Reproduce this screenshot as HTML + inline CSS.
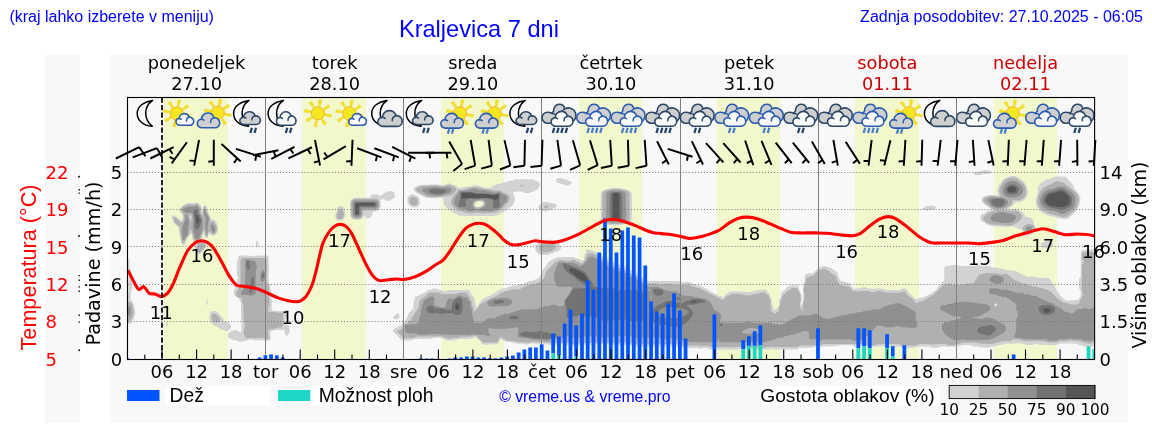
<!DOCTYPE html>
<html lang="sl"><head><meta charset="utf-8"><title>Kraljevica 7 dni</title>
<style>
html,body{margin:0;padding:0;background:#fff;}
body{width:1152px;height:443px;overflow:hidden;font-family:'Liberation Sans',Arial,sans-serif;}
svg{display:block;will-change:transform;}
</style></head><body>
<svg width="1152" height="443" viewBox="0 0 1152 443">
<defs><clipPath id="axclip"><rect x="127.5" y="97.5" width="967.0999999999999" height="262.0"/></clipPath></defs>
<rect width="1152" height="443" fill="#fff"/>
<rect x="45" y="55" width="35" height="367.5" fill="#f8f8f8"/>
<rect x="110" y="55" width="1017.8" height="367.5" fill="#f8f8f8"/>
<rect x="164" y="97.5" width="64" height="262.0" fill="#f2f8cc"/>
<rect x="302" y="97.5" width="64" height="262.0" fill="#f2f8cc"/>
<rect x="441" y="97.5" width="63" height="262.0" fill="#f2f8cc"/>
<rect x="579" y="97.5" width="63" height="262.0" fill="#f2f8cc"/>
<rect x="717" y="97.5" width="63" height="262.0" fill="#f2f8cc"/>
<rect x="855" y="97.5" width="64" height="262.0" fill="#f2f8cc"/>
<rect x="994" y="97.5" width="63" height="262.0" fill="#f2f8cc"/>
<g clip-path="url(#axclip)" fill-rule="evenodd" shape-rendering="geometricPrecision">
<path fill="#d2d2d2" d="M982.5 170.4l1.5-.1l1.5-.1l1.5 .1l1.5 0l1.5 .1l1.5 1.5l-1.4 1.6l-1.6 .2l-1.5 .2l-1.5 0l-1.5 .1l-1.5 .1l-1.4 .9l-1.6 .1l-1.5 0l-1.5 0l-1.5 0l-1.5-1.5l1.5-1.6l1.5-.2l1.5-.1l1.5-.1l1.5-.1l1.4-1.0zM1009.5 176.2l1.5-.2l1.5-.1l1.5 0l1.5 .2l1.5 1.2l1.5 .4l1.5 1.3l1.5 1.3l1.5 .6l1.5 1.5l.7 1.6l.8 1.0l.8 2.0l.1 1.5l.6 1.2l.4 1.8l0 1.5l-.1 1.5l-1.1 1.5l-.2 1.5l-1.4 1.5l-1.7 1.5l-1.9 .7l-1.5 .8l-1.5 .1l-1.5 .1l-1.5 0l-1.0 1.3l-1.3 1.5l-1.6 1.5l-2.1 .9l-1.0 .6l1.0 1.2l1.5 0l1.5-.1l1.5-.1l1.5 .1l1.5 .2l1.5 .9l1.5 .3l1.5 1.4l1.5 .6l.6 1.5l.9 1.3l1.5 1.6l1.5 0l1.5 .1l1.5 1.3l1.5 .1l1.5 1.5l.1 1.6l.1 1.5l.4 1.5l.9 .9l.8 2.1l0 1.5l-.3 1.5l-1.4 1.5l-1.5 1.5l-2.1 .9l-1.1 .6l-1.9 .5l-1.5-.3l-1.5-1.1l-1.5-1.6l-.8-2.0l-.7-1.1l-1.5-.3l-1.5-.1l-1.5-1.3l-1.5-.1l-1.5-1.4l-1.5 .3l-1.5 .2l-1.5 .1l-1.5 0l-1.5 0l-1.5 0l-1.5-.1l-1.5 0l-1.5-.1l-1.5-.1l-1.5 0l-1.5-.1l-1.5-.1l-1.5 0l-1.5-.1l-1.5-.9l-1.5-.2l-1.5-.4l-1.5-1.1l-1.5-1.4l-1.5-.3l-1.5-1.5l-.6-1.9l.1-1.5l.3-1.5l1.5-1.5l1.7-.5l1.2-1.0l1.8-1.5l1.5-.4l1.5-.2l1.5-.2l1.2-.7l-1.2-.6l-1.5-.5l-1.5-1.3l-1.5-1.3l-1.5-.6l-1.5-1.1l-1.5-1.6l-.8-2.0l.1-1.5l.6-1.5l1.6-.8l1.5-.7l1.5-.6l1.5-.2l1.5-.1l1.5 0l1.5 0l1.5 .1l1.5 .1l1.5 .2l1.0-1.0l-.2-1.5l-.8-1.2l-.3-1.8l1.0-1.5l.2-1.5l.4-1.5l1.1-1.5l1.4-1.5l.7-1.5l1.3-1.5l1.7-1.5l1.5-.6l1.5-.2l1.2-.7zM1056.0 176.5l1.5-.1l1.5 0l1.5 0l1.5 0l1.5 0l1.5 .1l1.5 1.3l1.5 1.6l1.5 1.5l1.5 1.5l1.5 1.6l.3 1.5l1.2 1.3l.3 1.7l1.2 1.4l1.4 1.6l1.1 1.5l.9 1.5l.8 1.5l.5 1.5l.2 1.5l-.1 1.5l-.3 1.5l-.3 1.5l-.4 1.5l-.5 1.5l-.9 1.5l-.9 1.5l-1.0 1.5l-1.3 1.5l-1.5 1.5l-1.5 1.5l-1.6 1.5l-2.1 1.5l-1.5 .5l-1.5 .2l-1.5-.1l-1.5-.2l-1.5-.3l-1.5-.4l-1.5-.5l-1.5-.5l-1.5-.3l-1.5-.3l-1.5-.2l-1.5-.4l-1.5-.4l-1.5-.7l-1.5-.7l-1.5-.7l-1.5-.6l-1.5-.8l-1.5-1.1l-1.2-1.5l-.8-1.5l-.7-1.5l-.5-1.5l-.3-1.5l-.1-1.5l0-1.5l.2-1.5l.3-1.5l.5-1.5l.5-1.5l.4-1.5l-.1-1.5l0-1.5l.1-1.5l.1-1.5l1.3-1.5l.3-1.5l1.5-1.5l1.5-.3l1.3-1.2l1.6-1.5l1.6-.2l1.5-.1l1.5-.1l1.4-1.1l1.6-.3l1.5-.1l1.5-1.1zM558.0 178.0l1.5-.1l1.5 0l1.5 1.2l1.5 .1l1.5 .1l1.5 .2l1.5 1.2l1.5 .2l1.5 1.4l.1 1.7l-1.6 .3l-1.4 1.2l-1.6 .1l-1.5 0l-1.5-1.2l-1.5-.1l-1.5-.2l-1.5-1.2l-1.5-.2l-1.5-.2l-.2-1.5l0-1.5l1.7-1.5zM514.5 179.4l1.5 0l1.5-.1l1.5 0l1.5-.1l1.5 0l1.5 0l1.5 0l1.5 0l1.5 .1l1.5 0l1.5 0l1.5 .1l1.5 .1l1.5 1.3l1.5 .2l1.5 1.4l1.5 1.5l.1 1.6l-1.4 1.5l-.2 1.5l-1.5 1.5l-1.5 .3l-1.4 1.2l-1.6 .3l-1.5 .1l-1.4 1.1l-1.6 .1l-1.5 0l-1.5-.1l-1.5-1.1l-1.5-.1l-1.5-.1l-1.5-.1l-1.5-.1l-1.5 .1l-1.5 .1l-1.4 1.3l.2 1.5l1.2 1.3l.3 1.7l0 1.5l0 1.5l-.1 1.5l-1.3 1.5l-.3 1.5l-1.5 1.5l-1.6 .4l-1.2 1.1l-1.5 1.5l-1.7 1.5l-1.6 .4l-1.3 1.1l-1.7 .5l-1.2 1.0l-1.8 .5l-1.3 1.0l-1.7 .3l-1.5 0l-1.5 .1l-1.5 0l-1.5 0l-1.5 .1l-1.5 0l-1.5 0l-1.5 0l-1.5 0l-1.5-.1l-1.5 0l-1.5-.1l-1.5 0l-1.5 .1l-1.5 .1l-1.5 0l-1.5 0l-1.5 0l-1.5 0l-1.5-.1l-1.5-.1l-1.5 0l-1.5-.1l-1.5 0l-1.5-1.3l-1.5-.2l-1.5-1.3l-1.5-.4l-1.5-1.3l-1.5-1.4l-1.5-.3l-1.5-1.3l-1.5-1.4l-1.5-1.7l-.2-1.6l-.1-1.5l0-1.5l0-1.5l-1.2-1.4l-1.5 .2l-1.5 .2l-1.5 .1l-1.5 .1l-1.5 .1l-1.5 0l-1.5-.1l-1.5 0l-1.5-.1l-1.5-.1l-1.5-.2l-1.5-1.0l-1.5-.4l-1.5-1.1l-1.5-.4l-1.5-1.1l-1.5-.2l-1.5-1.4l-1.5-1.7l-.4-2.0l1.6-1.5l1.8-.7l1.3-.8l1.7-.5l1.5-.2l1.5-.1l1.5 0l1.5 0l1.5 0l1.5 0l1.5-.1l1.5 0l1.5-.1l1.5 0l1.5 0l1.5 .1l1.5 .2l1.5 .2l1.5 0l1.5-.2l1.5-.1l1.4-.7l1.6-.4l1.5 0l1.5 .3l1.5 .8l1.5 .2l1.5 .5l1.5 1.3l1.5 1.3l1.5 0l1.5 0l1.4-1.0l1.6-.2l1.5-.1l1.5-.1l1.5-.1l1.5-.1l1.4-.9l1.6-.2l1.5 0l1.5 0l1.5 .2l1.5 1.0l1.5 .2l1.5 .2l1.5 1.0l1.5 0l1.5 .1l1.5 0l1.5 0l1.4-1.0l1.5-1.5l1.6-.2l1.4-1.3l1.6-.2l1.5 0l1.5-.1l1.5-1.2l1.5-.1l1.5-.1l1.5 0l1.4-1.3l1.6-.2l1.5-.1l1.5-.1l1.4-1.1zM476.6 202.0l-1.1 .8l-.7 2.2l.7 1.2l1.5 .7l1.5 0l1.5-.3l1.5-.9l1.2-.7l.8-1.5l-.5-1.1l-1.5-.8l-1.5-.1l-1.5 .1l-1.5 .2zM610.5 188.3l1.5-.2l1.5-.1l1.5 0l1.5 0l1.5 0l1.5 .1l1.5 .1l1.5 .8l1.5 0l1.5 .2l1.5 .3l1.5 1.1l1.5 .4l1.5 1.7l.4 1.8l0 1.5l0 1.5l0 1.5l0 1.5l0 1.5l0 1.5l0 1.5l0 1.5l0 1.5l0 1.5l0 1.5l0 1.5l0 1.5l0 1.5l0 1.5l0 1.5l-.1 1.5l-1.2 1.5l-2.0 1.5l-1.6 .7l-1.5 .2l-1.5 .1l-1.2 .5l-1.8 .5l-1.5 .1l-1.5 .1l-1.5 0l-1.5 0l-1.5 0l-1.5-.1l-1.5-.1l-1.5-.3l-1.5-.7l-1.5-.2l-1.5-.3l-1.5-1.2l-1.5-.5l-.7-1.8l0-1.5l0-1.5l0-1.5l0-1.5l0-1.5l0-1.5l0-1.5l0-1.5l0-1.5l0-1.5l0-1.5l0-1.5l0-1.5l0-1.5l0-1.5l0-1.5l0-1.5l0-1.5l.5-1.5l1.7-.8l1.1-.7l1.9-.7l1.5-.2l1.5-.1l1.3-.5zM387.0 191.4l1.5-.1l1.5 0l1.5 0l1.5 .1l1.5 1.5l.2 1.6l0 1.5l-.1 1.5l-1.5 1.5l-1.6 .3l-1.4 1.2l-1.6 .2l-1.5 0l-1.5-.1l-1.5-1.4l-1.5 .1l-1.5 .1l-.9 1.1l.4 1.5l.1 1.5l0 1.5l0 1.5l-.4 1.5l-.7 1.1l-1.5 1.4l-1.2 .5l-1.8 .4l-1.5 0l-1.2 1.1l0 1.5l-.1 1.5l-1.5 1.5l-1.7 1.5l-1.5 .1l-1.5-.1l-.2-1.5l-1.3-1.4l-1.2 1.4l-1.3 1.5l-2.0 1.1l-1.5 .2l-1.5 0l-1.5 0l-1.5-.2l-1.5-.6l-1.5-1.7l-.8-1.8l0-1.5l0-1.5l0-1.5l0-1.5l0-1.5l-.2-1.5l0-1.5l0-1.5l.1-1.5l.4-1.5l1.4-1.5l2.1-1.1l1.5-.1l1.5 0l1.5 0l1.5 0l1.5 0l1.5 0l1.5 0l1.5 0l1.5 0l1.5 0l1.5 0l0-1.5l1.3-1.8l1.7-.3l1.5 0l1.5 .1l1.5 .2l1.5 1.1l1.5 .1l1.5-1.2l1.5-1.5l1.5-.3l1.4-1.2zM411.0 194.2l1.5 0l1.5 .1l1.5 1.1l1.5 .2l1.5 1.5l.7 1.9l.1 1.5l.7 1.4l.1 1.6l-1.0 1.5l-.5 1.5l-1.6 .6l-1.5 .1l-1.5 0l-1.5-.1l-1.5-.2l-1.5-1.3l-1.5-1.7l-.6-1.9l-.1-1.5l.1-1.5l.2-1.5l1.4-1.5l1.7-1.5zM543.0 201.9l1.5-.1l1.5 .1l1.5 .1l1.5 .9l1.5 .1l1.5 0l1.5 .2l1.5 .2l1.5 1.4l.1 1.7l-1.4 1.5l-1.7 .4l-1.3 1.1l-1.7 .4l-1.5 .1l-1.3 1.0l-1.7 .4l-1.5 0l-1.5-.1l-1.5-1.3l-1.5-.4l-1.5-1.5l-.2-1.6l1.4-1.5l1.5-1.5l1.7-1.5zM187.5 203.2l1.5-.2l1.5 0l1.5 .1l1.5 .3l1.5-.4l1.5-.4l1.5 .2l1.5 1.6l1.5 1.6l.6 2.0l-.1 1.5l1.0 1.2l.3-1.2l.1-1.5l.5-1.5l2.1-1.5l1.0 1.5l.2 1.5l.3 1.5l.7 1.5l.4 1.5l.4 1.1l1.2 1.9l.9 1.5l.3 1.5l.5 1.5l1.6-.7l1.5 .6l1.2 1.6l1.1 1.5l.7 1.3l.5 1.7l.1 1.5l.1 1.5l-.2 1.5l-.5 1.3l-.9 1.7l-1.5 1.5l-2.1 .8l-1.5-.6l-1.5-1.7l-1.5 .6l-.4 2.4l-.5 1.5l-1.5 0l-1.4-1.5l-.3-1.5l0-1.5l-.4-1.4l-.6 1.4l-.5 1.5l-.7 1.5l-.4 1.5l.7 1.3l1.5 .9l.8 .8l.7 .9l1.1 2.1l.1 1.5l-.4 1.5l-.8 1.2l-1.5 1.5l-1.5 1.6l-1.3 1.7l-1.7 1.2l-1.5-.1l-1.3-1.1l-.8-1.5l-.5-1.5l-.3-1.5l-.2-1.5l.4-1.5l1.0-1.5l-1.3-.8l-.9-.7l-.6-.9l-.8-2.1l-.2-1.5l-.2-1.5l-.2-1.5l-1.4-1.5l-.9 1.5l-.8 1.1l-1.4 1.9l-.8 1.5l-.8 1.4l-.6 1.6l-.6 1.5l-1.7 1.5l-1.2-1.5l-.8-1.5l-.4-1.5l-.2-1.5l0-1.5l-.2-1.5l-.3-1.4l-.6-1.6l-.2-1.5l-.3-1.5l-.1-1.5l0-1.5l-1.6-1.5l-1.7-1.1l-1.5-1.7l-.8-1.7l-.4-1.5l-.7-1.5l-.4-1.5l.1-1.5l2.2-.2l1.5 1.0l.9 .7l2.0 1.5l1.6 1.0l1.5 1.2l1.5-2.2l-.1-1.5l-.5-1.5l-.3-1.5l-1.7-1.5l-1.0-1.5l-.1-1.5l.7-1.3l1.5-1.5l1.5-1.1l.9-.6l2.1-1.3zM190.2 217.0l.2 1.5l.5-1.5zM931.5 205.0l1.5 1.1l1.5 .1l1.5 .2l.2 1.6l-1.5 1.5l-1.7 .3l-1.5 .1l-1.5 .1l-1.5 0l-1.5 1.0l-1.5-1.1l-1.5-.2l-1.5-.2l-.1-1.5l1.6-.3l1.3-1.2l1.7-.3l1.5-.1l1.5-.1l1.5-1.0zM339.0 206.3l1.5-.2l1.5 .1l1.5 1.4l.7 1.9l.8 1.4l.3 1.6l.1 1.5l-.2 1.5l-.8 1.5l-.2 1.5l-.5 1.5l-1.7 .6l-1.5 .1l-1.5-.1l-1.5-.2l-1.5-1.3l-.7-2.1l0-1.5l.2-1.5l.3-1.5l1.0-1.5l.1-1.5l.4-1.5l1.5-1.5zM549.0 239.4l1.5 0l1.5 1.0l1.5 .1l1.5 .1l1.5 .3l1.5 1.4l1.5 1.6l.4 1.6l1.1 1.4l0 1.6l-1.3 1.5l-1.7 1.5l-1.5 .4l-1.5 .2l-1.3 .9l-1.7 .5l-1.5 .1l-1.3 .9l-1.7 .4l-1.5 .1l-1.5 .1l-1.5 0l-1.5-.1l-1.5-.2l-1.5-1.3l-1.5-.4l-.5-1.6l-1.0-1.2l-.3-1.8l0-1.5l1.3-1.5l.4-1.5l1.6-1.5l1.5-.5l1.2-1.0l1.8-.6l1.5-.1l1.5 0l1.5-.1l1.4-.7zM256.5 240.7l1.5 1.6l.5 1.7l0 1.5l-.4 1.5l-1.6 0l-.4-1.5l-.2-1.5l.1-1.5l.2-1.5zM1045.5 241.0l1.5-.1l1.5-.1l1.5 .1l1.5 1.4l1.5 1.6l.1 1.6l-1.5 1.5l-1.6 .3l-1.5 .1l-1.5 0l-1.5 1.1l-1.5-1.1l-1.5-.1l-1.5-.2l-.3-1.6l.1-1.5l1.6-1.5l1.6-.3l1.5-1.2zM586.5 249.6l1.5 0l1.5 .1l1.5 .3l1.5 .9l1.5 .3l1.5 1.0l1.5 .3l1.5 .5l1.5 1.1l1.5 1.3l1.5 .5l1.5 1.1l1.5 1.2l1.5 .3l1.5 1.3l1.5 .3l1.5 1.4l1.5 .5l1.5 1.0l1.5 .3l1.5 1.1l1.5 .1l1.5 .3l1.5 1.0l1.5 .2l1.5 .2l1.5 1.2l1.5 .4l1.5 1.3l1.5 1.3l1.5 1.4l1.5 .3l1.5 1.2l1.5 .4l1.5 1.2l1.5 1.4l1.5 .5l1.5 1.3l1.5 1.3l1.5 .6l1.5 1.1l1.5-.1l1.5-.1l1.5-.1l1.5 0l1.5 0l1.5 .1l1.5 0l1.5 .1l1.5 0l1.5 0l1.5 .1l1.5 0l1.5 0l1.5-.1l1.5 0l1.5-.1l1.5 0l1.5 .1l1.5 0l1.5 .2l1.5 .1l1.5 .9l1.5 0l1.5 0l1.5 0l1.5-.7l1.5 .8l1.5 .1l1.5 .3l1.5 1.1l1.5 .2l1.5 .2l1.5 1.0l1.5 .1l1.5 .3l1.5 1.2l1.5 .4l1.5 1.1l1.5 .5l1.5 1.2l1.5 1.2l1.5 .3l1.5 1.3l1.5 .3l1.5 1.1l1.5 .3l1.5 1.3l1.5 .1l1.5 .5l1.5 1.0l.9-.9l1.4-1.5l.7-.7l.8-.8l2.0-1.5l1.7-.6l1.5-.1l1.5 0l1.5 .1l1.5 0l1.5 .1l1.5 0l1.5 .1l1.5 0l1.5 .1l1.5 .1l1.5 .1l1.5 .1l1.5 0l1.5-.2l1.5-.3l1.5-.2l1.4-.8l1.6-.4l1.5-.1l1.5-.1l1.5-.1l1.5 0l1.5 0l1.5 .1l1.5 1.9l.8 1.7l.7 .8l.7 .7l0 1.5l.8 1.2l.8 1.8l0 1.5l0 1.5l0 1.5l.7 1.5l.4 1.5l.2 1.5l.9 .9l1.5 .4l1.3-1.3l1.0-1.5l1.4-1.5l0-1.5l0-1.5l0-1.5l.4-1.5l1.2-1.5l0-1.5l0-1.5l.1-1.5l1.5-1.5l1.5-1.5l1.5-1.5l1.5-1.5l1.6-1.5l2.0-.6l1.5 0l1.5 0l1.5-.1l1.5 0l1.5-.1l.8 .8l0 1.5l0 1.5l.7 1.3l.7 1.7l.4 1.5l1.1 1.5l.1 1.5l0 1.5l0 1.5l0 1.5l-.8 .8l-.4 2.2l0 1.5l1.3-1.5l1.0-1.5l0-1.5l.3-1.5l0-1.5l0-1.5l0-1.5l0-1.5l0-1.5l-.3-1.5l0-1.5l.3-1.5l0-1.5l0-1.5l.8-.7l.8-2.3l0-1.5l0-1.5l0-1.5l0-1.5l2.1-1.5l1.6-.4l1.5-.2l1.5-.1l1.5 0l.8-.8l.7-.7l.7-.8l.8-.8l.8-.7l.5-1.5l1.7-.7l1.5-.1l1.2-.7l1.8-.6l1.5 0l1.5 .3l1.5 1.1l1.5 .2l1.5 .3l1.5 1.2l1.5 1.3l1.5 .4l1.5 1.4l.8 1.9l0 1.5l.7 .9l.7 2.1l.8 1.4l1.5 1.3l1.5 0l1.5 .2l1.5 .9l1.5 .2l1.5 .3l1.5 1.0l.7 .7l0 1.5l.8 .9l1.5 1.8l1.5 0l1.5-.1l1.5-.1l1.5-.1l1.5-.1l1.3-.8l1.7-.2l1.5 0l1.5 1.0l1.5 .1l1.5 .2l1.5 .2l1.5 .1l1.5-.1l1.5-.1l1.5-.1l1.5 0l1.5 0l1.5 .1l1.5 .1l1.5 1.0l1.5 0l1.5 .1l1.5 0l1.5 .1l1.5 .1l1.5 0l1.5 0l1.5-.1l1.5-.1l1.5-.1l1.4-.8l1.6-.4l1.5-.2l1.5 .2l1.5 1.6l.7 1.8l.8 .8l1.5 1.6l1.5 1.4l1.5 1.4l.7 .8l.8 .8l1.5 .3l1.5-.2l1.4-.9l1.6-.4l1.5-.1l1.5-.2l1.0-.8l2.0-.7l1.0-.8l2.0-.8l1.0-.7l2.0-1.5l1.5-.7l.8-.8l.7-.7l.8-.8l.4-1.5l1.4-1.5l1.6-1.5l1.5-1.5l1.4-1.5l1.1-1.5l0-1.5l0-1.5l0-1.5l0-1.5l0-1.5l0-1.5l0-1.5l0-1.5l.5-1.5l1.8-.5l1.5-.2l1.5 0l1.5-.8l1.5-.1l1.5 0l1.5 0l1.5 0l1.5 .9l1.5 0l1.5 .1l1.5 0l1.5 0l1.5-.1l1.5 0l1.5 0l1.5 .1l1.5 0l1.5 0l1.5 0l1.5-.1l1.4-.8l1.6-.1l1.5 .9l1.5 0l1.5 .1l1.5 0l1.5 0l1.5 .1l1.5 .2l1.5 1.1l1.5 .1l1.5 .2l1.5 .1l1.5 .1l1.5 .1l1.5 .9l1.5 .2l1.5 .1l1.5 .3l1.5 .8l1.5 0l1.5 0l1.5 0l1.5 .2l1.5 .2l1.5 .3l1.5 .9l1.5 .2l1.5 1.4l1.5 .4l1.5 1.3l1.5 .4l1.5 1.0l1.5 .3l1.5-.1l1.5 .1l1.5 0l1.5 .1l1.5 0l1.5 0l1.5 .9l1.5 .1l1.5 .1l1.5 0l1.5-.1l1.5-.1l1.5 0l1.5 0l.7 .7l.8 .9l1.5 1.9l.7 1.7l.8 .9l1.5 1.9l.7 1.7l.8 1.0l.8 2.0l.7 .9l1.5 2.1l.8 1.5l.7 .9l1.5 1.5l1.5 1.4l.7 .7l.8 .7l1.5 .3l1.5-.1l1.5 0l1.5-.1l1.5 0l1.5 0l1.5 0l1.5-.8l1.5-.1l.8-1.4l1.5-1.5l0-1.5l0-1.5l0-1.5l0-1.5l-.8-.7l-.8-.8l0-1.5l0-1.5l0-1.5l0-1.5l0-1.5l0-1.5l0-1.5l.8-.7l.8-.8l0-1.5l0-1.5l0-1.5l0-1.5l0-1.5l0-1.5l0-1.5l0-1.5l0-1.5l0-1.5l0-1.5l0-1.5l0-1.5l0-1.5l0-1.5l0-1.5l0-1.5l.7-.7l1.4-.8l1.6-.2l1.5 0l1.5-.1l1.5 0l1.5-.1l1.5 0l1.5 0l.7 1.9l.4 1.5l0 1.5l0 1.5l0 1.5l0 1.5l0 1.5l0 1.5l0 1.5l0 1.5l0 1.5l0 1.5l0 1.5l0 1.5l0 1.5l0 1.5l0 1.5l0 1.5l0 1.5l0 1.5l0 1.5l0 1.5l0 1.5l0 1.5l0 1.5l0 1.5l0 1.5l0 1.5l0 1.5l0 1.5l0 1.5l0 1.5l0 1.5l0 1.5l0 1.5l0 1.5l0 1.5l0 1.5l.2 1.5l0 1.5l0 1.5l0 1.5l0 1.5l0 1.5l0 1.5l0 1.5l0 1.5l0 1.5l0 1.5l0 1.5l0 1.5l0 1.5l0 1.5l0 1.5l0 1.5l0 1.5l0 1.5l0 1.5l0 1.5l0 1.5l-.2 1.5l-.3 1.5l-.1 1.5l-.3 1.5l-1.9 .5l-1.5 .1l-1.5 .1l-1.4 .8l-1.6-.8l-1.5-.1l-1.5-.3l-1.5-1.1l-1.5-.2l-1.5-.2l-1.5-1.0l-1.5-.1l-1.5-.2l-1.5-.1l-1.5-.1l-1.5 .1l-1.5 0l-1.5 0l-1.5 0l-1.5 .1l-1.5 .1l-1.5 .1l-1.5 .1l-1.4 .7l-1.6 .4l-1.5 .1l-1.5 .1l-1.5 .1l-1.5 0l-1.5-.1l-1.5 0l-1.5-.1l-1.5-.1l-1.5-.1l-1.5-.1l-1.5-.1l-1.5-.1l-1.5-.8l-1.5 0l-1.4 .8l-1.6 .3l-1.5 .1l-1.5 .1l-1.5-.1l-1.5-.1l-1.5-.3l-1.5-.9l-1.5-.1l-1.5-.1l-1.5-.2l-1.5 0l-1.5 0l-1.5 .2l-1.5 .1l-1.5 .2l-1.5 0l-1.5 .1l-1.5 0l-1.5 0l-1.4 .7l-1.6 .2l-1.5 .2l-1.5 .1l-1.5 .2l-1.3 .8l-1.7 .5l-1.5 .1l-1.5 .1l-1.4 .8l-1.6 .1l-1.5 0l-1.5 0l-1.5 0l-1.5 0l-1.5 0l-1.5-.1l-1.5-.9l-1.5-.1l-1.5-.1l-1.5-.2l-1.5-.1l-1.5-.9l-1.5 0l-1.5-.1l-1.5 0l-1.5 0l-1.5 0l-1.5 .1l-1.5 .8l-1.5 .3l-1.5 .2l-1.5 .1l-1.5 .1l-1.5 0l-1.5 0l-1.5 0l-1.5 0l-1.5 0l-1.5-.1l-1.5-.1l-1.5 .1l-1.5 0l-1.5 .9l-1.5 .2l-1.5 0l-1.5 0l-1.5 0l-1.5-.1l-1.5-.9l-1.5-.1l-1.5-.1l-1.5-.1l-1.5 0l-1.5 .1l-1.5 0l-1.5 .1l-1.5 .1l-1.5 .1l-1.3 .7l-1.7 .3l-1.5 .1l-1.5 .1l-1.5 0l-1.5 0l-1.5-.1l-1.5-.1l-1.5-.1l-1.5-.2l-1.5-.8l-1.5-.1l-1.5 0l-1.5 0l-1.5 0l-1.5-.1l-1.5 0l-1.5 0l-1.5-.1l-1.5 0l-1.5-.1l-1.5 0l-1.5 0l-1.5 .1l-1.5 .1l-1.5 .1l-1.5 .1l-1.5 0l-1.5 .1l-1.5 0l-1.5 0l-1.5 0l-1.5-.1l-1.5 0l-1.5-.1l-1.5 0l-1.5 0l-1.5 0l-1.5 0l-1.5-.1l-1.5-.1l-1.5-.2l-1.5-1.0l-1.5 0l-1.5 0l-1.5 0l-1.5 0l-1.5 0l-1.5 0l-1.5 0l-1.5 0l-1.5 0l-1.4 .8l-1.6 .1l-1.5 .1l-1.5 0l-1.5 0l-1.5 0l-1.5 0l-1.5 .1l-1.5 .1l-1.5 .1l-1.5 .1l-1.5 .1l-1.5 0l-1.5 0l-1.5 0l-1.5 .1l-1.5 .7l-1.5 .2l-1.5 .1l-1.5 0l-1.5 0l-1.5 0l-1.5 0l-1.5 .1l-1.5 .1l-1.5 .1l-1.4 .9l-1.6 .4l-1.5 .2l-1.5 0l-1.5 0l-1.5 0l-1.5 0l-1.5-.1l-1.5 0l-1.5-.1l-1.5 0l-1.5 0l-1.5 0l-1.5 .1l-1.5 0l-1.5-.1l-1.5-.1l-1.5-.1l-1.5 0l-1.5 .2l-1.5 .1l-1.5 .1l-1.5 .1l-1.5 0l-1.5 0l-1.5 0l-1.5-.1l-1.5-.1l-1.5 0l-1.5 0l-1.5 0l-1.5 0l-1.5 0l-1.5 0l-1.5-.1l-1.5-.2l-1.5-.2l-1.5-.8l-1.5 0l-1.5 .8l-1.5 .2l-1.5 .2l-1.5 .1l-1.5 .1l-1.5 0l-1.5 0l-1.5 0l-1.5 0l-1.5-.1l-1.5 0l-1.5-.1l-1.5 0l-1.5 0l-1.5 .1l-1.5 .1l-1.5 0l-1.5 0l-1.5 0l-1.5-.1l-1.5-.2l-1.5-.3l-1.5-.9l-1.5 0l-1.5 .1l-1.5 0l-1.5 .8l-1.5-.8l-1.5-.1l-1.5 0l-1.5-.1l-1.5 0l-1.5 0l-1.5-.1l-1.5-.1l-1.5-.2l-1.5-.9l-1.5 .8l-1.5 .1l-1.5-.1l-1.5-.8l-1.5 0l-1.5 0l-1.5 0l-1.5-.1l-1.5 0l-1.5-.1l-1.5-.1l-1.5-.1l-1.5 .1l-1.5 .1l-1.5 0l-1.5 0l-1.5-.1l-1.5 0l-1.5 0l-1.5 0l-1.5 .1l-1.5 .1l-1.5 0l-1.5 .1l-1.5-.1l-1.5 0l-1.5 0l-1.5 0l-1.5 0l-1.5 .1l-1.5 0l-1.5 0l-1.5-.1l-1.5-.2l-1.5-.1l-1.5-.2l-1.5-.9l-1.5-.1l-1.5 0l-1.5-.1l-1.5 0l-1.5 0l-1.5 0l-1.5 .1l-1.5 0l-1.5 0l-1.5 0l-1.5-.1l-1.5 0l-1.5-.1l-1.5-.1l-1.5-.1l-1.5-.1l-1.5-.8l-1.5 0l-1.5 0l-1.5 0l-1.5 0l-1.3 .7l-1.7 .3l-1.5 .1l-1.5 .1l-1.5 0l-1.5 0l-1.5 .1l-1.5 0l-1.5-.1l-1.5 0l-1.5 0l-1.5 .1l-1.5 0l-1.4 .9l-1.6 .2l-1.5 0l-1.5-.1l-1.5-.9l-1.5-.1l-1.5-.1l-1.5-.1l-1.5-.2l-1.5-.1l-1.5-.9l-1.5 0l-1.5 0l-1.5 .1l-1.4 .7l-1.6 .2l-1.5 .1l-1.5 0l-1.5 0l-1.5 0l-1.5-.1l-1.5-.2l-1.5-.7l-1.5-.1l-1.5 0l-1.5 0l-1.5 0l-1.5 0l-1.5-.1l-1.5-.1l-1.5 0l-1.5 .1l-1.5 .1l-1.5 .8l-1.5 .1l-1.5-.1l-1.5-.8l-1.5 0l-1.5 0l-1.5 0l-1.5-.1l-1.5-.1l-1.5-.2l-1.5-.3l-1.5-.8l-1.5-.1l-1.5-.1l-1.5-.1l-1.5-.1l-1.5-1.1l-1.5-.3l-1.5-1.4l-1.2 1.0l-1.0 1.5l-.3 1.5l-1.8 1.5l-1.7 .1l-1.5 0l-1.5-.1l-1.5-.7l-1.5 .7l-1.5 .2l-1.5 .1l-1.5 0l-1.5 0l-1.5-1.5l-.7-1.8l-.8-.8l-.7-.7l-.8-.8l-.7-.7l-.8-.7l-1.5-.4l-1.5 .2l-1.5 .9l-1.5 .3l-1.5 .1l-1.5 .1l-1.5 0l-1.5 0l-1.5 0l-1.5 0l-1.5 0l-1.5 .1l-1.5 .1l-1.4 .8l-1.6 .3l-1.5 .1l-1.5 .1l-1.5 .1l-1.5 .1l-1.5-.2l-1.5-.3l-1.5-1.1l-1.5-.3l-1.5-1.1l-1.5 0l-1.5 0l-1.5 0l-1.5 0l-1.5 0l-1.4 .8l-1.6 .2l-1.5 .1l-1.5 .1l-1.5 0l-1.5 0l-1.5 0l-1.5-.1l-1.5 0l-1.5 .1l-1.5 .1l-1.5 .1l-1.5 .1l-1.4 .8l-1.6 .3l-1.5 .1l-1.5 .1l-1.5 0l-1.5 0l-1.5-.1l-1.5-.2l-1.5-1.2l-1.5-1.6l-1.5-1.5l-1.5-1.4l-1.5-1.3l-1.5-1.6l-.2-2.1l1.7-.7l1.1-.8l1.9-.7l1.1-.8l1.9-.7l1.2-.8l1.3-1.5l1.3-1.5l.7-.7l.8-.8l.1-1.5l1.3-1.5l0-1.5l.8-1.5l.9-1.5l1.4-1.5l.7-.7l.8-.8l.7-.8l.7-.7l0-1.5l.3-1.5l.1-1.5l0-1.5l.1-1.5l1.1-1.5l0-1.5l.6-1.5l1.6-.6l1.5-.1l1.0-.8l2.0-.7l1.2-.8l1.8-.7l1.0-.8l1.6-1.5l1.9-.6l1.5-.1l1.2-.8l1.8-.4l1.5-.1l1.5 .2l1.5 .3l1.5 .9l1.5 .2l1.5 .4l1.5 .8l1.5 0l1.5-.8l1.5-.2l1.5-.2l1.5 0l1.5-.1l1.5 0l1.5 0l1.5-.1l1.5 0l1.5 0l1.5 0l1.5 0l1.5 0l1.5-.1l1.5 0l1.5 .1l.7 2.1l.8 1.2l.8 1.8l.7 .8l.7 .7l.8 1.1l.8 1.9l0 1.5l0 1.5l.7 .8l.7 2.2l0 1.5l.8 1.1l.5-1.1l.9-1.5l.8-1.5l.4-1.5l1.2-1.5l1.7-1.5l1.8-1.5l1.7-.6l1.3-.9l1.7-.5l1.5-.2l1.0-.8l1.8-1.5l1.7-.6l1.0-.9l1.7-1.5l1.8-.6l1.4-.9l1.6-.4l1.5-.2l1.5-.1l1.3-.8l1.7-.5l1.5-.2l1.4-.8l1.6-.4l1.5-.1l1.5-.1l1.5 0l1.4-.9l1.6-.4l1.5-.1l1.5-.1l1.1-.9l1.9-.7l1.2-.8l1.8-.6l1.5 0l1.5-.1l1.2-.8l1.8-.5l1.5-.2l1.3-.8l1.2-1.5l1.3-1.5l.2-1.5l1.2-1.5l.1-1.5l.5-1.5l1.3-1.5l1.4-1.5l1.3-1.5l.5-1.5l1.2-1.5l1.9-1.5l1.6-.5l1.2-1.0l1.8-.6l1.2-.9l1.8-.3l1.5 .1l1.5 0l1.5-.1l1.5-.1l1.5 0l1.5 0l1.5 0l1.5 0l1.5-.1l1.5-.1l1.5 .1l1.5 1.2l1.5 .2l1.5 .4l1.5 1.1l1.5 .4l1.5 .8l.7-2.1l0-1.5l0-1.5l.5-1.5l1.1-1.5l.1-1.5l.2-1.5zM995.4 304.0l-.5 1.5l1.1 .4l.5-1.9zM129.0 256.0l.1 1.5l.1 1.5l.1 1.5l0 1.5l.1 1.5l0 1.5l0 1.5l.1 1.5l1.0 1.4l.3 1.6l.2 1.5l1.0 1.5l.2 1.5l0 1.5l0 1.5l0 1.5l0 1.5l0 1.5l0 1.5l0 1.5l-.1 1.5l0 1.5l-1.1 1.5l0 1.5l-.1 1.5l-.1 1.5l-.1 1.5l0 1.5l-.1 1.5l1.4 1.5l.6 1.5l.9 1.1l.7 1.9l.1 1.5l0 1.5l.7 1.4l.1 1.6l.1 1.5l-.1 1.5l-.8 1.5l-.2 1.5l-.2 1.5l-1.3 1.5l-.4 1.5l-1.6 1.5l-1.6 .5l-1.5 .1l-.9-2.1l-.2-1.5l0-1.5l-.1-1.5l0-1.5l-.1-1.5l0-1.5l0-1.5l0-1.5l0-1.5l.1-1.5l0-1.5l.1-1.5l.1-1.5l.3-1.5l.5-1.5l0-1.5l0-1.5l0-1.5l.1-1.5l1.1-1.5l0-1.5l0-1.5l0-1.5l-.1-1.5l-.9-1.5l.9-1.5l.1-1.5l.1-1.5l.1-1.5l0-1.5l0-1.5l-.1-1.5l-1.1-1.5l-.3-1.5l-.1-1.5l0-1.5l0-1.5l0-1.5l.1-1.5l.1-1.5l.1-1.5l1.4-1.5l.1-1.5l.1-1.5zM238.5 255.7l1.5-.2l1.5-.1l1.5 0l1.5 0l1.5 0l1.5 .1l1.5 .2l1.5 .1l1.5 .2l1.5 0l1.5-.1l1.5-.2l1.5-.1l1.5-.1l1.5 0l1.5-.1l1.5 0l1.5 0l1.5 0l1.5 .4l.2 1.7l0 1.5l0 1.5l-.1 1.5l.1 1.5l0 1.5l.1 1.5l.1 1.5l0 1.5l0 1.5l-.1 1.5l0 1.5l-.1 1.5l0 1.5l0 1.5l.1 1.5l.1 1.5l.1 1.5l1.0 1.2l.4 1.8l.1 1.5l.1 1.5l0 1.5l0 1.5l-.1 1.5l.1 1.5l0 1.5l.9 1.5l.3 1.5l.1 1.5l0 1.5l0 1.5l0 1.5l-.1 1.5l0 1.5l-.2 1.5l1.4 .8l1.5 0l1.5 0l1.5 .1l1.5 0l1.5 0l1.5 0l1.5 0l1.5-.1l1.5-.8l1.5-.3l.3 1.8l-.3 1.5l-1.2 1.5l-.2 1.5l-1.1 1.5l0 1.5l0 1.5l0 1.5l-.1 1.5l1.1 1.3l1.5 0l1.5 1.6l.2 1.6l.1 1.5l-.1 1.5l-.1 1.5l-1.3 1.5l-.1 1.5l-1.7 .2l-1.5-1.6l-.3-1.6l-.1-1.5l-1.1-1.0l-1.5 0l-1.5 0l-1.5 0l-1.5 .1l-1.5 0l-1.5 .1l-1.5 0l-1.4 .8l-1.2 1.5l.1 1.5l0 1.5l.1 1.5l0 1.5l-.1 1.5l-2.0 .7l-1.5 0l-1.5 0l-1.5-.2l-1.5-.1l-1.5-.1l-1.5 0l-1.5 0l-1.5 0l-1.5 0l-1.5-.2l-1.5-.1l-1.5-.8l-1.4 .8l-1.6 .3l-1.5 .2l-1.5 .2l-1.2 .8l-1.8 .3l-1.5 0l-1.5-.1l-1.5-1.5l-1.5 0l-1.5 0l-1.5-.2l-1.5-1.2l-1.5-.2l-1.5-1.5l-.2-1.6l.1-1.5l1.4-1.5l1.6-1.5l1.6-.2l1.5-.1l1.5-1.2l1.5 1.3l1.5 .1l1.5 1.5l1.3-1.4l.1-1.5l0-1.5l0-1.5l0-1.5l-.1-1.5l-.1-1.5l0-1.5l-.1-1.5l0-1.5l.1-1.5l0-1.5l-.1-1.5l0-1.5l-.1-1.5l0-1.5l0-1.5l0-1.5l-.1-1.5l-.1-1.5l-.8-1.3l-.4-1.7l-1.1-1.3l-1.5-.8l-.9-.9l-2.1-1.2l-.3-1.8l0-1.5l.2-1.5l1.1-1.5l.2-1.5l.2-1.5l1.2-1.5l.1-1.5l.1-1.5l.2-1.5l1.0-1.5l0-1.5l-1.0-1.5l-.2-1.5l0-1.5l.1-1.5l.1-1.5l-.1-1.5l-.1-1.5l-.1-1.5l.1-1.5l.1-1.5l1.1-1.5l0-1.5l.1-1.5l.1-1.5zM207.0 297.8l.4 1.7l.2 1.5l.1 1.5l-.1 1.5l-.2 1.5l-1.0-1.5l-.1-1.5l.1-1.5l.2-1.5l.2-1.5zM211.5 311.3l1.5-.3l1.5 0l1.5 .2l1.5 1.3l1.5 .4l.5 1.6l1.0 1.0l1.5 1.5l1.5 1.6l.4 1.9l1.1 1.3l1.5 0l1.5 .1l1.5 1.4l1.5 1.6l.2 1.6l-.1 1.5l-1.4 1.5l-1.6 1.5l-1.6 .1l-1.5 0l-1.5-1.3l-1.5-.1l-1.5-.1l-1.5-1.6l-1.5-1.3l-1.5-.2l-1.5-1.1l-1.5-.3l-1.5-1.4l-.6-1.7l-.9-1.1l-.6-1.9l0-1.5l0-1.5l.2-1.5l.3-1.5l1.4-1.5zM397.5 313.0l1.5 1.3l.4 1.7l-.1 1.5l-1.5 1.5l-1.8 .3l-1.5-.1l-1.5-1.6l1.1-1.6l1.7-1.5l1.7-1.5zM166.5 321.8l1.5 1.7l0 1.5l-1.4 1.5l-.4-1.5l0-1.5l.1-1.5z"/>
<path fill="#b0b0b0" d="M1011.0 177.7l1.5-.2l1.5 0l1.5 .5l1.5 .8l1.1 .7l1.9 1.4l1.5 1.0l1.5 1.3l.8 .8l.7 1.0l1.0 2.0l.4 1.5l.2 1.5l.1 1.5l-.1 1.5l-.3 1.5l-.6 1.5l-.7 1.0l-1.5 1.6l-1.5 1.0l-1.5 .4l-1.5 .2l-1.5 .1l-1.5 0l-1.5 0l-1.5 .1l-.2 1.6l0 1.5l-.9 1.5l-1.9 1.3l-1.5 .8l-1.5 .6l-1.5 .8l-1.5 .5l-1.5 .1l-1.5 .2l-1.5 .1l-1.5 .1l-1.5-.1l-1.5-.2l-1.5-.5l-1.5-.6l-1.5-1.1l-1.5-1.3l-.9-.7l-2.0-1.5l-1.6-1.4l-.8-1.6l.1-1.5l.7-.8l1.5-1.1l1.5-.4l1.5-.4l1.5-.2l1.5-.1l1.5 .1l1.5 .1l1.5 .2l1.5 .1l1.5 0l1.5-.2l0-1.6l-.8-1.7l-.4-1.5l0-1.5l.3-1.5l.5-1.5l.8-1.5l1.0-1.5l1.1-1.5l1.3-1.5l1.8-1.5l1.9-.9l1.5-.6zM1054.5 182.1l1.5-.6l1.5-.2l1.5 .1l1.5 .3l1.5 .5l1.5 .6l1.5 1.0l1.5 1.4l1.5 .9l.8 .9l2.1 1.5l1.6 1.1l1.5 1.2l.8 .7l.7 .8l1.5 2.0l.9 1.7l.5 1.5l.2 1.5l-.1 1.4l-.2 1.6l-.3 1.5l-.4 1.5l-.5 1.5l-.7 1.5l-.9 1.3l-1.5 1.7l-1.5 1.3l-1.5 1.2l-1.5 1.3l-1.0 .7l-2.0 1.1l-1.5 .4l-1.5 0l-1.5-.1l-1.5-.3l-1.5-.4l-1.5-.5l-1.5-.4l-1.5-.4l-1.5-.3l-1.5-.3l-1.2-.3l-1.8-.7l-1.5-.7l-1.5-.6l-1.5-.7l-1.5-.8l-1.3-1.0l-1.4-1.5l-1.0-1.5l-.8-1.5l-.4-1.5l-.1-1.5l0-1.5l.2-1.5l.3-1.4l.5-1.6l.5-1.5l.5-1.3l.9-1.7l.6-.9l1.5-1.6l1.5-1.4l1.2-.6l1.8-1.1l1.5-.7l1.5-.5l1.3-.7l1.7-1.0zM432.0 185.4l1.5-.1l1.5 0l1.5 0l1.5 .2l1.5 .4l1.5 .2l1.5 .1l1.5-.2l1.5-.3l1.5-.4l1.5-.3l1.5 .1l1.5 .4l1.5 .6l1.5 .7l1.5 1.5l.7 1.7l-.7 .8l-1.5 2.0l-1.5 1.3l-1.5 1.1l-1.5 .2l-1.5 .3l-1.5 .2l-1.5 .4l-1.5 .2l-1.5 .2l-1.5 .1l-1.5 .1l-1.5 .1l-1.5 .2l-1.5 .1l-1.5-.1l-1.5-.1l-1.5-.1l-1.5-.2l-1.5-.1l-1.5-.4l-1.5-.7l-1.5-.8l-1.5-.9l-1.5-.7l-1.5-.8l-1.5-.8l-1.1-1.6l.4-1.5l2.2-1.5l1.5-.6l1.5-.3l1.5-.2l1.5-.1l1.5 0l1.5 0l1.5-.1l1.5-.2zM520.5 185.1l1.5-.3l1.5 .4l-1.5 1.3l-1.5-.7zM468.0 188.2l1.5-.6l1.5-.2l1.5-.1l1.5-.1l1.5-.1l1.5 .2l1.5 .2l1.5 .2l1.5 .4l1.5 .5l1.5 .3l1.5 0l1.5 .2l1.5 .2l1.5 .4l1.5 .5l1.5 .1l1.5 .1l1.5 .1l1.5 .2l1.5-.1l1.5 .3l1.5 1.1l1.5 .9l1.5 .4l1.5 1.1l1.5 .9l1.3 2.2l-.1 1.5l-1.0 1.5l-.5 1.5l-1.2 1.3l-1.5 1.7l-1.2 1.5l-1.5 1.5l-1.8 1.5l-1.5 1.0l-1.1 .5l-1.9 .9l-1.5 .5l-1.5 .2l-1.5 .2l-1.5 .1l-1.5 .1l-1.5 .1l-1.5 .1l-1.5 .1l-1.5 0l-1.5-.1l-1.5-.2l-1.5-.2l-1.5-.1l-1.5 0l-1.5 .1l-1.5 .2l-1.5 .2l-1.5 0l-1.5-.1l-1.5-.3l-1.5-.4l-1.5-.4l-1.5-.4l-1.5-.3l-1.5-.5l-1.5-.7l-.9-.6l-2.1-1.5l-1.5-1.5l-1.1-1.5l-.4-1.1l-.4-1.9l.3-1.5l.3-1.5l1.3-1.4l.6-1.6l.9-1.0l1.5-1.9l1.5-1.5l.2-1.6l1.3-.8l1.5 .3l1.1 .5l1.9-.6l1.5-.5l1.5-.1zM475.2 202.0l-1.1 1.5l-.2 1.5l.6 1.5l1.0 .6l1.5 .4l1.5 0l1.5-.3l1.5-.5l1.5-.9l.8-.8l.6-1.5l-.6-1.5l-.8-.6l-1.5-.5l-1.5-.1l-1.5 .1l-1.5 .3l-1.5 .6zM607.5 190.0l1.5-.3l1.5-.3l1.5-.2l1.5-.1l1.5 0l1.5 0l1.5 0l1.5 .1l1.5 .1l1.5 .4l1.5 .2l1.5 .4l1.5 .6l1.2 .6l1.3 1.5l.1 1.5l0 1.5l0 1.5l0 1.5l0 1.5l0 1.5l0 1.5l0 1.5l0 1.5l0 1.5l0 1.5l0 1.5l0 1.5l0 1.5l0 1.5l0 1.5l0 1.5l0 1.5l-1.1 1.4l-1.5 .9l-1.5 .7l-1.5 .3l-1.5 .4l-1.5 .2l-1.5 .1l-1.5 .1l-1.5 0l-1.5 0l-1.5 0l-1.5-.1l-1.5-.2l-1.5-.2l-1.5-.4l-1.5-.4l-1.5-.8l-.9-.5l-1.2-1.5l0-1.5l0-1.5l0-1.5l0-1.5l0-1.5l0-1.5l0-1.5l0-1.5l0-1.5l0-1.5l0-1.5l0-1.5l0-1.5l0-1.5l0-1.5l0-1.5l0-1.5l.1-1.5l1.3-1.5l2.2-1.0l1.3-.5zM411.0 197.3l1.5-.6l1.5 .2l1.5 .5l1.5 1.1l.8 2.0l.1 1.5l-.3 1.5l-.6 .9l-.8 .6l-2.2 .5l-1.5-.3l-1.5-.7l-.9-1.0l-.6-1.1l-.4-1.9l.4-1.5l1.2-1.5zM354.0 199.0l1.5-.2l1.5 0l1.5 0l1.5 0l1.5 0l1.5 0l1.5 0l1.5 0l1.5 0l1.5 0l1.5 0l1.5-.1l1.5-.1l1.5 0l1.5 .2l1.5 .9l.7 .8l.8 1.5l.1 1.5l0 1.5l0 1.5l-.5 1.5l-1.1 1.3l-1.5 .8l-1.5 .1l-1.5 0l-1.5 0l-1.5 .1l-1.5 0l-1.5 0l-1.5-.1l-1.5 0l-1.5 .5l-.2 1.8l0 1.5l-.1 1.5l-.7 1.5l-1.9 1.5l-1.6 .3l-1.5 0l-1.5 0l-1.5-.2l-1.5-1.0l-1.2-2.1l-.1-1.5l0-1.5l0-1.5l0-1.5l0-1.5l-.2-1.5l0-1.5l0-1.5l.1-1.5l.8-1.5l2.0-1.5zM187.5 204.6l1.5-.3l1.5 .1l1.5 .1l1.5 .2l1.5-.6l1.5-.5l1.5 .4l.9 1.0l1.2 1.5l.5 1.5l0 1.5l.1 1.5l.2 1.5l.7 1.5l.8 1.5l.6-1.5l-.2-1.5l.2-1.5l.2-1.5l.3-1.5l.5-.9l1.0-.6l1.2 1.5l.2 1.5l.4 1.5l.5 1.5l.7 1.5l.5 1.0l1.1 2.0l.4 1.5l.1 1.5l-.1 1.5l-.2 1.5l1.7-1.4l1.5-.6l1.5 1.6l1.2 1.9l.7 1.5l.4 1.5l.2 1.5l-.2 1.5l-.5 1.5l-1.1 1.5l-2.2 1.1l-1.5-.9l-1.1-1.7l-.4-1.3l-.8 1.3l-1.1 1.5l-.3 1.5l-.4 1.5l-1.6 0l-.7-1.5l-.2-1.5l-.2-1.5l-.4-1.5l-.3-1.4l-.4 1.4l-.5 1.5l-.6 1.3l-.6 1.7l-.5 1.5l-.4 1.2l-.7 1.8l.7 1.2l1.5 0l1.5 1.1l1.4 2.2l.1 1.5l-.5 1.5l-1.0 1.4l-1.5 1.6l-1.4 1.5l-1.6 1.4l-1.5-.6l-1.0-2.3l-.3-1.5l.1-1.5l.5-1.5l.7-1.2l.9-1.8l-2.4-.3l-1.5-.7l-1.2-2.0l-.5-1.5l-.3-1.5l-.3-1.5l-.3-1.5l-.4-1.4l-1.0-1.6l-.3-1.5l-.6 1.5l-.3 1.5l-.4 1.5l-.6 1.5l-1.0 1.5l-1.0 1.5l-.8 1.3l-.8 1.7l-.7 1.5l-1.5 1.0l-.6-1.0l-.7-1.5l-.3-1.5l-.3-1.5l-.2-1.5l-.2-1.5l-.2-1.5l-.3-1.5l-.1-1.5l-.1-1.5l.1-1.5l-1.2-1.5l-1.9-1.4l-1.5-1.5l-1.0-1.6l-.8-1.5l-.2-1.5l-.3-1.5l2.3 .7l1.2 .8l1.8 1.5l1.5 1.5l1.3 1.5l1.5-1.5l.7-1.5l.3-1.5l-.1-1.5l-.2-1.5l-.2-1.5l-1.5-1.5l-1.1-1.5l-.2-1.5l1.0-1.5l1.5-1.2l1.5-1.0l1.5-.7zM188.9 215.5l.4 1.5l.5 1.5l.3 1.5l.3 1.5l.9-1.5l.3-1.5l.2-1.5l-.6-1.5l-2.2-.2zM544.5 206.0l1.5-.5l1.5 .1l1.5 .6l-1.5 1.4l-1.5 .6l-1.5-.2l-.5-1.5zM340.5 208.7l1.5 .4l1.2 1.9l.4 1.5l.2 1.5l-.1 1.5l-.4 1.5l-1.0 1.5l-1.8 .7l-1.5-.2l-1.2-.5l-1.1-1.5l0-1.5l.4-1.5l.4-1.2l.8-1.8l.7-1.3zM996.0 210.3l1.5-.8l1.5 .2l1.5 .2l1.5 .1l1.5 .1l1.5 .1l1.5 .3l1.5 .2l1.5 .2l1.5 0l1.5-.1l1.5 0l1.5 0l1.5 .3l1.5 .6l1.2 .8l1.4 1.5l.7 1.5l.1 1.5l-.3 1.5l-1.1 1.5l-1.8 1.5l-1.7 1.2l-1.5 .9l-1.5 .8l-1.5 .5l-1.5 .4l-1.5 .3l-1.5 .1l-1.5 0l-1.5-.1l-1.5-.1l-1.5-.2l-1.5-.2l-1.5-.2l-1.5-.1l-1.5-.1l-1.5-.1l-1.5 0l-1.5-.2l-1.5-.4l-1.5-.6l-1.5-.9l-1.5-1.0l-1.5-1.3l-.9-1.7l.4-1.5l1.6-1.5l1.9-1.3l1.5-1.1l.8-.6l2.2-.9l1.5-.3l1.5-.2zM1026.0 224.5l1.5-.5l1.5 0l1.5 .1l1.3 .4l1.7 1.0l1.2 2.0l-.1 1.5l-.8 1.5l-1.4 1.5l-1.9 1.4l-1.5 .6l-1.5 .1l-1.5-.5l-1.5-1.4l-1.2-1.7l-.5-1.5l.2-1.5l.9-1.5l2.1-1.5zM543.0 242.5l1.5-.5l1.5-.3l1.5 0l1.5 .1l1.5 .3l1.2 .4l1.8 1.1l1.5 1.6l.8 1.8l-.3 1.5l-1.6 1.5l-1.9 1.0l-1.3 .5l-1.7 .5l-1.5 .3l-1.5 .2l-1.5 .1l-1.5-.1l-1.5-.5l-1.5-1.1l-.6-.9l-.2-1.5l.4-1.5l.7-1.5l.9-1.5l1.8-1.5zM1083.0 252.4l1.5-.2l1.5-.1l1.5-.1l1.5-.1l1.5 0l1.5 0l1.5 0l.6 1.1l0 1.5l0 1.5l0 1.5l0 1.5l0 1.5l0 1.5l0 1.5l0 1.5l0 1.5l0 1.5l0 1.5l0 1.5l0 1.5l0 1.5l0 1.5l0 1.5l0 1.5l0 1.5l0 1.5l0 1.5l0 1.5l0 1.5l0 1.5l0 1.5l0 1.5l0 1.5l0 1.5l0 1.5l0 1.5l0 1.5l0 1.5l0 1.5l0 1.5l0 1.5l0 1.5l0 1.5l.3 1.5l0 1.5l0 1.5l0 1.5l0 1.5l0 1.5l0 1.5l0 1.5l0 1.5l0 1.5l0 1.5l0 1.5l0 1.5l0 1.5l0 1.5l0 1.5l0 1.5l0 1.5l0 1.5l0 1.5l0 1.5l0 1.5l-.3 1.5l-.6 1.2l-1.4 .3l-1.6 .6l-1.5 .1l-1.5-.1l-1.0-.6l-2.0-.4l-1.5-.1l-1.5-.5l-1.5-.7l-1.5-.2l-1.5 0l-1.5 0l-1.5-.1l-1.5-.4l-1.5-.4l-1.5 .1l-1.5 .4l-1.5 .2l-1.5 .1l-1.5 .1l-1.5 0l-1.5 0l-1.5 .1l-1.5 .9l-1.5 .4l-1.5 .1l-1.5 0l-1.5 0l-1.5 0l-1.5-.2l-1.5-.3l-1.3-.6l-1.7-.2l-1.5-.1l-1.5 0l-1.5-.1l-1.5 0l-1.5 0l-1.5 0l-1.5 0l-1.5 0l-1.5 0l-1.5 .1l-1.5-.1l-1.5 0l-1.5 0l-1.5-.2l-1.5-.4l-.9-.5l-2.1-.4l-1.5 0l-1.5 0l-1.5 0l-1.5 .1l-1.5 1.0l-1.5 .4l-1.5 0l-1.5 0l-1.5 0l-1.5 0l-1.5 .1l-1.3 .3l-1.7 .9l-1.5 .2l-1.5 0l-1.5 1.0l-1.5 .3l-1.5 .1l-1.5 0l-1.5 0l-1.5-.1l-1.5-.1l-1.5 0l-1.5 0l-1.5-.1l-1.5-.1l-1.5-.4l-1.5-.4l-1.5-.2l-1.5 0l-1.5 0l-1.5 0l-1.5 0l-1.5 0l-1.5 0l-1.5 0l-1.5 0l-1.5 .2l-1.5 1.0l-1.5 .3l-1.5 0l-1.5 .4l-1.5 .7l-1.5 .2l-1.5 .1l-1.5-.1l-1.5-.2l-1.5-.7l-1.5-.4l-1.5 0l-1.5-.2l-1.5 .1l-1.5 .1l-1.5 .1l-1.5 0l-1.5 .1l-1.5 .1l-1.5 0l-1.5-.2l-1.5-.1l-1.5 0l-1.5 0l-1.5 0l-1.5 0l-1.5 0l-1.5 0l-1.5 .4l-1.5 .7l-1.5 .3l-1.5 .1l-1.5 0l-1.5 0l-1.5 0l-1.5 0l-1.5 0l-1.5 0l-1.5-.1l-1.5-.3l-1.2-.7l-1.8-.4l-1.5 0l-1.5 0l-1.5 0l-1.5 .1l-1.5-.1l-1.5 0l-1.5 0l-1.5 0l-1.5 0l-1.5 0l-1.5 0l-1.5 0l-1.5 0l-1.5 .2l-1.5 .7l-1.5 .4l-1.5 .1l-1.5 0l-1.5 0l-1.5 0l-1.5-.1l-1.5-.4l-1.1-.5l-1.9-.4l-1.5 0l-1.5 0l-1.5 .1l-1.5-.1l-1.5 0l-1.5 0l-1.5 0l-1.5-.1l-1.5 0l-1.5 .1l-1.5 0l-1.5-.1l-1.5-.1l-1.5 0l-1.5 0l-1.5 .1l-1.5 0l-1.5 0l-1.5 0l-1.5 0l-1.5 0l-1.5 .1l-1.5 0l-1.5 0l-1.5 0l-1.5 0l-1.5 .3l-1.5 .7l-1.5 .2l-1.5 0l-1.5 0l-1.5 .1l-1.5 .1l-1.5 .1l-1.5 0l-1.5 0l-1.5 0l-1.5 0l-1.5 0l-1.5 0l-1.5 0l-1.5 .2l-1.5 1.0l-1.5 .3l-1.5 0l-1.5 0l-1.5 .1l-1.5-.1l-1.5 0l-1.5 0l-1.5 0l-1.5 0l-1.5 0l-1.5 0l-1.5 0l-1.5 0l-1.5 0l-1.5-.1l-1.5-.1l-1.5-.2l-1.5 .1l-1.5 .2l-1.5 .1l-1.5 0l-1.4 .4l-1.6 .5l-1.5-.2l-1.5-.5l-1.5-.2l-1.5 0l-1.5 0l-1.5 0l-1.5 .1l-1.5 0l-1.5-.1l-1.5 0l-1.5 0l-1.5 0l-1.5-.1l-1.5-.1l-1.5 0l-1.5 .1l-1.5 .1l-1.5 0l-1.5 0l-1.5 0l-1.5 .1l-1.5 .1l-1.5 0l-1.5 0l-1.5-.2l-1.5 0l-1.5 0l-1.5 0l-1.5 0l-1.5 0l-1.5 0l-1.5 0l-1.5 0l-1.5 0l-1.5-.1l-1.5-.5l-.9-.5l-2.1-.2l-1.5 .1l-1.5 .3l-1.5 .2l-1.5-.4l-1.5-.3l-1.5-.1l-1.5 0l-1.5 0l-1.5 0l-1.5 0l-1.5 0l-1.5 0l-1.5-.2l-1.5-.1l-1.5 0l-1.5 0l-1.5-.1l-1.5-.4l-1.5-.5l-1.5-.2l-1.5 0l-1.5 0l-1.5 0l-1.5 0l-1.5 0l-1.5 0l-1.5 0l-1.5 0l-1.5 0l-1.5 0l-1.5 0l-1.5-.1l-1.5 0l-1.5 .1l-1.5 0l-1.5 0l-1.5 0l-1.5 0l-1.5 0l-1.5 0l-1.5 0l-1.5 0l-1.5 .1l-1.5 .3l-1.5 .3l-1.5-.2l-1.5-.4l-1.5-.1l-1.5-.1l-1.5-.3l-1.5-.6l-1.5-.3l-1.5-.2l-1.5 0l-1.5 0l-1.5 0l-1.5 0l-1.5 .3l-1.5 .4l-1.5 .1l-1.5-.2l-1.5-.4l-1.5-.2l-1.5 0l-1.5 0l-1.5 0l-1.5 0l-1.5 0l-1.5 0l-1.5 0l-1.5 0l-1.5 0l-1.5 0l-1.5 0l-1.5 0l-1.5 .1l-1.5 .1l-1.5 0l-1.5 .1l-1.5 0l-1.5 0l-1.5-.1l-1.5 .1l-1.5 .2l-1.5 .4l-1.5 .3l-1.5 .2l-1.5 .1l-1.5-.1l-1.5-.2l-1.5-.5l-1.5-.6l-1.5-.1l-1.5 0l-1.5-.1l-1.5-.1l-1.5 .1l-1.5 .1l-1.5 0l-1.5 0l-1.5 .2l-1.5 .1l-1.5 0l-1.5 0l-1.5 0l-1.5-.2l-1.5-.1l-1.5 0l-1.5 0l-1.5 0l-1.5-.1l-1.5-.1l-1.5-.1l-1.5-.2l-1.5-.3l-1.5 0l-1.5 .3l-1.5 .3l-1.5 .1l-1.5 0l-1.5-.1l-1.5-.1l-1.5-.1l-1.5 .1l-1.5-.1l-1.5-.3l-1.5-.6l-1.5-.2l-1.5 0l-1.5-.1l-1.5-.2l-1.5-.2l-1.5-.4l-1.5-.6l-1.5-.4l-.7-.7l-1.9-1.5l-1.9 1.1l-1.2 1.9l-.7 1.5l-1.1 1.2l-1.5-.1l-1.5 0l-1.5 0l-1.5 0l-1.5 0l-1.5 0l-1.5 0l-1.5 0l-1.5 0l-1.1-1.1l-1.5-1.5l-1.5-1.5l-1.5-1.5l-1.5-1.5l-1.9 0l-1.5 .8l-1.5 .3l-1.5 .1l-1.5 0l-1.5 .1l-1.5-.1l-1.5 0l-1.5 0l-1.5 .2l-1.5 .8l-1.5 .4l-1.5 0l-1.5 0l-1.5 0l-1.5 .1l-1.4 .3l-1.6 .5l-1.5-.9l-1.5 0l-1.5-.6l-1.5-.9l-1.5-.2l-1.5-.1l-1.5 .1l-1.5 0l-1.5 .1l-1.5 0l-1.5 0l-1.5 .1l-1.5 0l-1.5 0l-1.5 0l-1.5 0l-1.5 0l-1.5 0l-1.5 0l-1.5 0l-1.5 .1l-1.2 .3l-1.8 .6l-1.5 .4l-1.5 .1l-1.5 0l-1.5 0l-1.5 .1l-1.5 .1l-1.5-.2l-1.1-1.1l-1.5-1.5l-1.5-1.5l-1.5-1.5l-1.0-1.5l2.1-1.1l1.3-.4l1.7-1.1l1.2-.4l.6-1.5l0-1.5l1.2-1.2l1.5-.1l1.5-1.0l1.5-1.7l1.5-1.6l.6-1.9l.9-.9l1.5-1.7l.8-1.9l1.1-1.5l1.1-1.1l.4-1.9l1.1-1.1l.4-1.9l0-1.5l.1-1.5l.9-1.5l.9-1.5l.7-.7l1.5-.4l1.5-1.5l1.5-1.3l1.5-1.6l1.5-1.3l1.5-.2l1.5-.1l1.5 0l1.5 0l1.5 0l1.5 .1l1.5 .5l1.5 .9l1.5 0l1.5 0l1.5 .1l1.5-.1l1.5 0l1.5 0l1.5 0l1.5 0l1.5-.1l1.5-.1l1.5-.4l1.5-.5l1.5-.2l1.5-.1l1.5 0l1.5 0l1.5 .1l.9 .9l.5 1.5l1.2 1.5l1.2 1.5l.3 1.5l.9 1.5l.6 1.5l0 1.5l0 1.5l1.5 1.5l0 1.5l0 1.5l0 1.5l1.9-1.1l1.5-1.3l1.3-2.1l.9-1.5l.8-1.1l1.5-1.5l1.5 0l1.5-1.3l1.5-.4l1.5-1.3l1.1-.4l1.9-1.2l1.5-.2l1.5-1.1l1.5-.1l1.5-1.3l1.5-.2l1.5-1.4l1.2-.5l1.8-1.1l1.5-.3l1.5-1.1l1.5-.1l1.5-.1l1.5-1.1l1.5-.3l1.5 0l1.5 0l1.5 0l1.5 0l1.5-.1l1.2-.3l1.8-1.0l1.5-.5l1.5-1.1l1.5-.4l1.5-1.0l1.5-.1l1.5-.3l1.5-.6l1.5-.5l1.5-.1l1.5-.1l1.5-1.1l1.5-.3l1.5-1.5l1.5-1.5l1.5-1.5l.4-1.9l.1-1.5l1.0-1.0l.7-2.0l.8-.8l1.5-1.8l1.5-1.5l1.5-1.5l1.5-1.3l1.5-1.6l1.5-1.3l1.5-.3l1.5-1.1l1.5 .2l1.5 .3l1.5 .2l1.5 .1l1.5 .1l1.5 .1l1.5-.1l1.5-.5l1.5-.6l1.5 .5l1.5 .8l1.5 .7l1.5 .8l1.5 1.0l1.5 .4l1.5-1.7l1.1-1.6l.8-1.5l.2-1.5l.9-.9l.7-2.1l.8-.8l1.5-.6l1.5 .3l1.5 0l1.5 .2l.9 .9l2.1 .7l.8 .8l1.8 1.5l1.9 1.1l1.5 .8l1.5 .5l1.5 1.0l1.5 1.1l1.5 .7l.8 .8l1.7 1.5l2.0 .6l.9 .9l2.1 .4l1.5 .3l.9 .8l2.1 .4l1.5 .1l1.5 .8l1.5 .6l1.5 1.0l1.5 .7l.9 .9l2.0 1.5l1.6 .5l1.1 1.0l1.9 .4l1.1 1.1l1.9 .8l1.5 1.2l1.0 1.0l1.9 1.5l1.6 .4l1.3 1.1l1.7 .4l1.5 0l1.5 .1l1.5-.1l1.5 0l1.5 0l1.5 .1l1.5 .3l1.5 .6l1.5 .2l1.5-.3l1.5-.4l1.5-.2l1.5 0l1.5 .1l1.5 .2l1.5 .4l1.5 .3l1.5 .1l1.5 .1l1.5-.1l1.5-.2l1.3-.1l1.7 0l1.5 .2l1.5 .1l1.5 0l1.5 .1l1.5 .1l1.5 1.0l1.5 .4l1.5 .3l.9 .8l2.1 .4l1.5 0l1.5 .7l1.5 .8l1.5 .6l1.5 .9l1.5 1.0l1.5 .5l1.3 1.1l1.7 .4l1.2 1.1l1.8 .4l1.1 1.1l1.9 .5l1.0 1.0l2.0 .5l1.2 1.0l1.8 .4l1.5-1.5l1.5-1.5l1.5-1.3l1.5-.2l1.4-.4l1.6-1.1l1.5 0l1.5 .1l1.5 0l1.5 .1l1.5 0l1.5 .2l1.5 .2l1.5 .3l1.5 .4l1.5 .1l1.5 .1l1.5 0l1.5-.1l1.5-.8l1.5-.5l1.5-.1l1.5-.1l1.5-.8l1.5-.3l1.5-.2l1.5 0l1.5 .1l.9 .9l1.7 1.5l1.5 1.5l0 1.5l1.5 1.5l0 1.5l0 1.5l0 1.5l0 1.5l0 1.5l0 1.5l0 1.5l1.1 1.5l2.0 1.5l1.8 .4l1.5-1.4l1.5-.3l.4-1.7l0-1.5l.1-1.5l1.0-1.1l.4-1.9l0-1.5l0-1.5l1.1-1.4l.4-1.6l0-1.5l1.1-1.1l1.5-1.5l1.5-1.4l1.5-1.2l1.5-.6l1.5-1.3l1.5-1.3l1.5-.1l1.5-.1l1.5 0l1.1 1.1l1.2 1.5l.3 1.5l1.0 1.5l.4 1.5l.1 1.5l0 1.5l0 1.5l0 1.5l-.5 1.5l0 1.5l0 1.5l.3 1.5l.2 1.5l1.5 1.5l0 1.5l.8-1.5l0-1.5l0-1.5l0-1.5l.1-1.5l.4-1.5l0-1.5l.6-1.1l.4-1.9l0-1.5l0-1.5l0-1.5l0-1.5l-1.0-1.5l0-1.5l.6-1.1l.4-1.9l0-1.5l.5-1.5l.6-1.1l.4-1.9l.1-1.5l1.0-1.0l1.5-.2l1.5-1.0l1.5-.3l1.5-.1l1.5-1.3l1.5-1.7l1.5-1.5l1.5-1.5l1.5 0l1.1-.4l1.9-1.1l1.5 0l1.1 1.1l1.9 .7l.8 .8l1.7 1.5l1.6 1.5l1.9 1.0l1.5 1.0l1.0 1.0l.1 1.5l.2 1.5l1.3 1.5l.3 1.5l1.2 1.5l1.9 .9l1.5 .1l1.5 .4l1.5 .4l1.5 .1l1.5 .1l1.0 1.0l1.4 1.5l.2 1.5l1.9 .5l1.5 .1l1.5 .2l1.5 .1l1.5-.2l1.5-.2l1.5-.1l1.5 0l1.5 0l1.5 0l1.5 .2l1.5 .3l1.4 .6l1.6 .1l1.3-.1l1.7-.6l1.5-.2l1.5-.1l1.5 .1l1.5 .2l1.5 .6l1.5 .3l1.5 .1l1.5 0l1.5 0l1.5 0l1.5 .1l1.5 .2l1.5 .1l1.5-.1l1.5-.3l1.5 0l1.5-.1l1.5-.8l1.5-.4l.9 .9l.6 1.1l1.3 1.9l1.7 1.5l1.5 .5l1.0 1.0l1.6 1.5l1.5 1.5l.2 1.5l1.7 .4l1.5-.2l1.5-.9l1.5-.4l1.5 0l1.5-1.2l1.5-.3l1.5-1.5l1.5-1.1l1.5-.4l1.5-1.5l1.5-.2l1.5-1.3l1.5-1.5l1.5-1.5l1.5-1.5l1.5-1.5l1.5-1.4l1.5-1.2l1.2-.8l1.8-1.1l1.5 0l1.5 0l1.5 .2l1.5 .6l1.5 .6l1.5 .1l1.5 0l1.5-.1l1.5-.1l1.5-.1l1.5-.1l1.5-.4l1.5-.3l1.5-.2l1.5-.1l1.5 0l1.5-.1l1.5 0l1.5-1.9l.4-1.5l1.1-1.1l.9-1.9l1.0-1.5l1.1-1.3l1.5 0l1.5-.1l1.5-.5l1.5-.4l1.5-.1l1.5-.1l1.5 0l1.5 .1l1.5 .1l1.5 .1l1.5-.1l1.5 .3l1.5 .8l1.5 0l1.5-.1l1.5-.1l1.5-.1l1.5-.6l1.5 1.1l1.0 1.0l1.6 1.5l1.5 1.5l1.9 .9l1.5 1.0l1.5 .3l.8 .8l2.2 .6l1.1 .9l1.9 .4l1.5 .1l1.5 .3l1.1 .7l1.9 .4l1.5 .2l1.0 .9l2.0 .4l1.5 .1l1.5 .2l1.5 .4l1.5 .8l1.5 0l1.5 .2l1.3 .9l1.7 .4l1.5 .2l1.5 .8l1.5 .5l1.4 1.1l1.2 1.5l1.5 1.5l1.5 1.5l1.6 1.5l1.7 1.5l1.6 .8l.7 .7l2.1 1.5l1.7 .4l1.5 0l1.5 .3l1.2 .8l1.8 .2l1.5 .1l1.5 .1l1.5 0l1.5 0l1.5-.3l.6-1.6l.9-.9l.4-2.1l1.1-1.1l.4-1.9l1.1-1.1l.4-1.9l-1.5-1.5l0-1.5l0-1.5l0-1.5l0-1.5l0-1.5l0-1.5l0-1.5l0-1.5l0-1.5l0-1.5l0-1.5l0-1.5l0-1.5l0-1.5l0-1.5l0-1.5l0-1.5l0-1.5l1.1-1.1l.4-1.9l0-1.5l-1.5-1.5l0-1.5l0-1.5l0-1.5l.5-1.5zM994.6 304.0l-.7 1.5l2.1 1.1l1.5-1.1l-.2-1.5l-1.3-.9zM241.5 258.2l1.5-.4l1.5 .1l1.5 0l1.5 0l1.5 0l1.5 0l1.5 0l1.5 .1l1.5 0l1.5-.1l1.5 0l1.5 0l1.5 0l1.5 0l1.5 0l1.5 0l1.1 1.1l0 1.5l0 1.5l.1 1.5l.1 1.5l.1 1.5l0 1.5l-.1 1.5l0 1.5l-.1 1.5l-.1 1.5l0 1.5l-.1 1.5l0 1.5l0 1.5l.2 1.5l.6 1.5l.5 1.5l.5 1.5l.5 1.5l.3 1.5l.1 1.5l0 1.5l-.1 1.5l.1 1.5l.1 1.5l0 1.5l.2 1.5l.1 1.5l-.1 1.5l-.1 1.5l-.2 1.5l-.6 1.5l-.3 1.5l-.2 1.5l0 1.5l1.9 .4l1.5 .1l1.5 0l1.5 .2l1.5 .1l1.5 .2l1.5 .2l1.5 .1l1.5 0l1.5 .1l-.3 1.6l-.1 1.5l0 1.5l0 1.5l-.1 1.5l0 1.5l-.2 1.5l-.1 1.5l-.1 1.5l-2.1 1.1l-1.5 0l-1.5 .1l-1.5 .1l-1.5 .6l-1.5 .6l-1.5 .1l-1.5 0l-1.5 .9l-.4 2.5l.2 1.5l.4 1.5l.2 1.5l-.1 1.5l-1.8 .9l-1.5-.5l-1.5-.8l-1.5 0l-1.5 0l-1.5 0l-1.5 0l-1.5 0l-1.5 0l-1.5 0l-1.5 0l-1.5 0l-1.5 0l-1.5 0l-1.4 .4l-1.2-1.5l-.4-1.4l-.8-1.6l-.1-1.5l0-1.5l.3-1.5l.5-1.5l.3-1.5l.1-1.5l-.1-1.5l-.5-1.5l-.4-1.5l-.2-1.5l0-1.5l-.1-1.5l0-1.5l-.1-1.5l0-1.5l0-1.5l0-1.5l0-1.5l-.1-1.5l-.3-1.2l-.7-1.8l-.3-1.5l-.1-1.5l0-1.5l-1.9-.6l-1.5-.1l-1.5-.7l-.8-1.6l-.1-1.5l.4-1.5l.9-1.5l.8-1.5l1.0-1.5l.8-1.2l.4-1.8l.1-1.5l0-1.5l.1-1.5l0-1.5l0-1.5l-.1-1.5l-.1-1.5l0-1.5l0-1.5l.1-1.5l0-1.5l0-1.5l-.1-1.5l0-1.5l.1-1.5l.1-1.5l.1-1.5zM127.5 302.0l1.5 0l1.4 .5l1.5 1.5l.7 1.5l.4 1.5l.2 1.5l.2 1.5l0 1.5l0 1.5l-.2 1.5l-.3 1.5l-.6 1.5l-.9 1.5l-.9 1.3l-1.5 1.3l-1.1 .4l-.8-1.5l-.2-1.5l-.2-1.5l-.1-1.5l0-1.5l0-1.5l0-1.5l0-1.5l0-1.5l0-1.5l.2-1.5l.2-1.5l.3-1.5zM213.0 314.0l1.5-.4l1.5 .6l1.5 1.3l1.5 1.8l1.1 1.7l0 1.5l-1.1 1.4l-1.5 .7l-1.5 .1l-1.5-.5l-1.5-1.2l-1.3-2.0l-.3-1.5l.2-1.5l.8-1.5z"/>
<path fill="#909090" d="M1012.5 180.9l1.5 .1l1.5 .5l1.5 .8l1.5 1.0l1.1 .7l1.8 1.5l1.1 1.5l.5 1.3l.2 1.7l-.2 1.5l-.6 1.5l-.9 1.3l-1.5 1.4l-1.5 .9l-1.5 .5l-1.5 .3l-1.5 .1l-1.5 0l-1.5 0l-1.5-.1l-1.5-.1l-1.5-.5l-1.3-.8l-1.4-1.5l-.7-1.5l-.4-1.5l0-1.5l.2-1.5l.6-1.5l.9-1.5l.6-.9l1.5-1.5l.8-.6l2.2-1.0l1.5-.4zM433.5 186.9l1.5 0l1.5 .1l1.5 .2l1.5 .3l1.5 .2l1.5 .1l1.5-.1l1.5-.1l1.5-.2l1.5 .1l1.5 .4l.9 .6l.6 1.3l-.5 1.7l-1.0 .9l-1.0 .6l-2.0 .8l-1.5 .5l-1.5 .5l-1.5 .4l-1.5 .3l-1.5 .1l-1.5 .1l-1.5 .1l-1.5-.1l-1.5-.1l-1.5-.3l-1.5-.3l-1.5-.3l-1.5-.4l-1.5-.7l-1.0-.6l-2.0-1.5l-1.0-1.5l1.0-1.3l1.5-.5l1.5-.2l1.5-.2l1.5-.3l1.5-.2l1.5-.2zM1057.5 186.9l1.5-.4l1.5-.1l1.5 .1l1.5 .3l1.5 .7l1.5 .9l1.5 1.0l1.5 1.1l1.3 1.0l1.6 1.5l1.3 1.5l.9 1.5l.6 1.5l.2 1.5l0 1.5l-.2 1.5l-.2 1.5l-.3 1.5l-.4 1.5l-1.0 1.5l-.8 .8l-1.0 .7l-2.0 1.2l-1.5 .9l-1.3 .9l-1.7 .9l-1.5 .3l-1.5 0l-1.5-.3l-1.5-.5l-1.5-.6l-1.5-.6l-1.5-.4l-1.4-.3l-1.6-.3l-1.5-.3l-1.5-.6l-1.5-.6l-1.5-.7l-1.5-1.0l-1.3-1.0l-1.3-1.5l-.9-1.5l-.3-1.5l0-1.5l.2-1.5l.4-1.5l.5-1.5l.7-1.5l1.0-1.5l1.0-1.0l1.5-1.1l1.5-.8l1.5-.5l1.5-.3l1.5-.3l1.5-.3l1.5-.6l1.5-.6l1.3-.5zM474.0 188.5l1.5 0l1.5 .9l1.5 .3l1.5 .2l1.5 0l1.5 .1l1.5 0l1.5 .7l1.5 .5l1.5 .2l1.5 0l1.5 .1l1.5 .9l1.5 .3l1.5-.3l1.5-.1l1.5-.2l1.5 .9l1.5 1.4l1.5 .1l1.5 1.3l1.5 .2l.1 1.5l0 1.5l-.1 1.5l-1.5 1.5l-1.4 1.5l-1.2 1.5l-1.2 1.5l-.5 1.5l-1.7 .6l-1.5 .9l-1.5 .1l-1.5 .2l-1.5 1.1l-1.5 .1l-1.5 0l-1.5 0l-1.5 0l-1.5 0l-1.5 0l-1.5 0l-1.5 0l-1.5 0l-1.5-.6l-1.5-.3l-1.5 0l-1.5 .6l-1.5 .3l-1.5 0l-1.5 0l-1.5 0l-1.5-1.1l-1.5-.3l-1.5-.1l-1.5-.7l-1.5-.3l-1.5-.1l-1.5-.4l-1.0-1.5l-1.6-1.5l-.5-1.5l0-1.5l0-1.5l.1-1.5l1.4-1.5l.1-1.5l1.4-1.5l1.4-1.5l-.1-1.5l1.8-.8l1.5 .3l1.5 0l1.5-.4l1.4-.6l1.6-.1l1.5-.1l1.5-.3l1.5-.9zM475.3 200.5l-1.3 .8l-1.2 2.2l-.2 1.5l.2 1.5l1.2 1.4l1.5 1.2l1.5 .1l1.5 0l1.5-.1l1.2-1.1l1.8-.4l1.1-1.1l1.3-1.5l.3-1.5l-.4-1.5l-.8-1.0l-1.5-1.2l-1.5-.2l-1.5 .2l-1.5 .1l-1.5 .2l-1.5 .3zM609.0 191.4l1.5-.4l1.5-.3l1.5-.1l1.5 0l1.5 0l1.5 0l1.5 .1l1.5 .2l1.5 .4l1.5 .6l1.5 1.1l.2 1.5l0 1.5l0 1.5l0 1.5l0 1.5l0 1.5l0 1.5l0 1.5l0 1.5l0 1.5l0 1.5l0 1.5l0 1.5l0 1.5l0 1.5l0 1.5l0 1.5l-.1 1.5l-1.6 1.3l-1.5 .6l-1.5 .4l-1.5 .2l-1.5 .1l-1.5 0l-1.5 0l-1.5 0l-1.5-.1l-1.5-.3l-1.5-.4l-1.5-.8l-1.1-1.0l-.1-1.5l0-1.5l0-1.5l0-1.5l0-1.5l0-1.5l0-1.5l0-1.5l0-1.5l0-1.5l0-1.5l0-1.5l0-1.5l0-1.5l0-1.5l0-1.5l0-1.5l.2-1.5l1.0-.8l1.2-.7zM988.5 198.4l1.5-.5l1.5-.3l1.5-.1l1.5 .1l1.5 0l1.5 .1l1.5-.1l1.5 0l1.5 .2l1.5 .3l1.5 .5l1.5 1.1l.9 .8l.6 1.4l-.1 1.6l-1.1 1.5l-1.8 1.3l-1.5 .8l-1.5 .6l-1.3 .3l-1.7 .2l-1.5 0l-1.5-.2l-1.5-.4l-1.5-.6l-1.5-1.0l-1.1-1.0l-1.2-1.5l-.7-1.1l-1.3-1.9l.3-1.5zM355.5 200.4l1.5 0l1.5 0l1.5 0l1.5 0l1.5 0l1.5 0l1.5 0l1.5 0l1.5 0l1.5 0l1.5 0l1.5 0l1.5 0l1.5 .3l1.2 1.3l.3 1.5l0 1.5l-.1 1.5l-1.0 1.5l-1.9 .6l-1.5 0l-1.5 0l-1.5 0l-1.5 0l-1.5 0l-1.5 0l-1.5 0l-1.5 0l-1.5 .3l-.3 2.1l0 1.5l0 1.5l-.2 1.5l-1.0 1.2l-1.5 .5l-1.5 0l-1.5 0l-1.5-.5l-1.0-1.2l-.2-1.5l0-1.5l0-1.5l0-1.5l0-1.5l-.1-1.5l-.1-1.5l0-1.5l.3-1.5l1.1-1.2l1.2-.3zM192.0 206.5l1.5 0l1.5-.3l1.5-.5l1.5 .6l.7 1.7l.8 1.5l0 1.5l.1 1.5l.2 1.5l1.1 1.5l.5 1.5l1.0 1.5l.2 1.5l.1 1.5l-.1 1.5l0 1.5l-.1 1.5l0 1.5l-.4 1.5l-.5 1.5l-.3 1.5l-.3 1.5l-.8 1.5l-.5 1.5l-.2 1.5l-1.3 1.5l-1.7 .1l-1.5-1.5l-.3-1.6l-.3-1.5l-.7-1.5l-.3-1.5l-.3-1.5l-.2-1.5l-.1-1.5l.1-1.5l.2-1.5l.2-1.5l.1-1.5l0-1.5l-.2-1.5l-.2-1.5l-.2-1.5l-.2-1.5l-.5-1.5l-1.6 .2l-1.5 .2l-1.5-.1l-1.5 1.2l1.5 1.5l.2 1.5l.4 1.5l.7 1.5l.2 1.5l0 1.5l-.2 1.5l-.3 1.5l-.2 1.5l-.2 1.5l-.2 1.5l-.1 1.5l-.1 1.5l-.2 1.2l-1.4 1.8l-1.3 1.5l-.3 1.5l-1.5 .2l-.2-1.7l-.1-1.5l-.2-1.5l-.2-1.5l-.2-1.5l.1-1.5l.1-1.5l.3-1.5l.2-1.5l.5-1.5l.8-1.5l.3-1.5l.7-1.5l.4-1.5l.1-1.5l-.1-1.5l.5-1.5l-.5-1.5l-1.0-.7l-1.5-.7l-.1-1.6l1.5-1.5l1.6-.5l1.5-.4l1.5-.4l1.5-.1zM204.0 209.3l1.5-.1l.1 1.8l.2 1.5l1.2 1.5l.3 1.5l1.1 1.5l.3 1.5l0 1.5l-.2 1.5l-.4 1.5l-.3 1.5l-.1 1.5l0 1.5l0 1.5l-.1 1.5l-.3 1.5l-.2 1.5l-.1 1.5l-.4-1.5l-.2-1.5l-.2-1.5l-.6-1.5l-.2-1.5l-.1-1.5l0-1.5l0-1.5l.2-1.3l.3-1.7l-.3-1.5l-.2-1.5l-.3-1.5l-1.0-1.3l-.1-1.7l0-1.5l.1-1.5zM1000.5 212.3l1.5-.1l1.5 .1l1.3 .2l1.7 .4l1.5 .4l1.5 .3l1.5 .2l1.5 .3l1.5 .4l1.5 .7l.7 1.8l-.4 1.5l-1.0 1.5l-.8 .7l-.9 .8l-2.1 1.0l-1.5 .4l-1.4 .1l-1.6 .1l-1.5-.1l-1.5-.1l-1.5-.2l-1.5-.2l-1.5-.3l-1.5-.1l-1.5-.2l-1.5-.1l-1.3-.3l-1.7-.9l-1.3-2.1l.5-1.5l.8-1.0l1.5-1.3l1.1-.7l1.9-.7l1.5-.4l1.5-.4zM211.5 224.4l1.5-.2l1.1 1.8l.8 1.5l.3 1.5l-.1 1.5l-.6 1.5l-1.5 .5l-1.3-2.0l-.4-1.5l-.2-1.5l.1-1.5l.3-1.5zM1027.5 226.5l1.5-.3l1.5 .3l1.4 1.0l0 1.5l-1.1 1.5l-1.8 1.0l-1.5-.1l-1.0-.9l-.5-1.5l.3-1.5zM589.5 256.7l1.5 0l1.5 .1l1.2 .7l1.8 .7l1.0 .8l2.0 .8l.7 .7l.8 .7l1.5 .4l1.5 1.1l1.5 .1l.7 .7l.8 .7l.8 .8l1.6 1.5l2.1 .8l.7 .7l.8 .7l1.5 0l1.5 .7l1.5 .8l1.5 0l1.2 .8l1.8 .7l1.5 0l1.2 .8l1.8 .7l.9 .8l2.1 .8l1.5 1.4l1.5 .8l1.5 .7l1.5 .1l1.5 1.4l1.5 .6l1.5 .9l.8 .8l1.5 1.5l2.2 1.0l1.5 1.2l1.5 .4l1.5 1.2l1.5 .6l1.5-.6l1.5 .2l1.5 0l1.5-.2l1.5 0l1.5 .4l1.5 .7l1.5 .2l1.4 .9l1.6 .9l1.5 .1l1.5 .4l1.5 .6l1.5 .2l1.5 0l1.5 0l1.5 0l1.5 .3l1.5 1.2l1.5 .3l1.5 1.2l1.1 .8l1.9 .7l1.5 0l1.5 0l1.5 0l1.5 .1l1.5 .3l1.5 .7l1.5 .4l1.5 0l1.5 0l1.5 .1l.9 .7l2.1 .4l1.5 .1l1.5 .2l1.3 .8l1.7 .7l.8 .8l1.5 1.5l.7 .7l.8 .8l0 1.5l1.5 1.5l.3 1.5l1.2 1.5l2.2 1.2l1.5 1.0l1.0 .8l1.3 1.5l.3 1.5l-.3 1.5l0 1.5l-.6 1.5l-.8 1.5l2.1 .3l1.5 .1l1.5 .3l1.5 0l1.5 0l1.5 0l1.5 0l1.5 0l1.5 0l1.5 0l1.5 0l1.5 0l1.5 0l1.5 0l1.5 0l1.5 0l1.5-.2l1.2-.5l1.8-.5l1.5 .4l1.5 .7l1.5 .1l1.5 0l1.5 0l1.5 0l1.5 0l1.5 0l1.5 0l1.5 0l1.5 0l1.5 0l1.5 0l1.5 0l1.5 0l1.5 .8l1.5 .7l1.5 0l1.5 0l1.5 .1l1.5 .6l1.5-.7l1.5 0l1.5-.6l1.5-.9l.9-.7l2.1-.9l1.5-1.4l1.5-.6l1.5-.9l1.5-.4l1.5-1.1l1.5-.4l1.5-1.1l1.5 0l1.5 0l1.5 0l1.5 0l1.5 0l1.5 0l1.5 0l1.5-.2l1.5-1.3l1.5 0l1.5 0l1.5 0l.8 .8l1.6 1.5l2.1 .9l1.5 1.3l1.5 0l1.5 .3l1.5 .3l1.5 .3l1.5-.9l1.5 0l.9-.7l2.1-.8l1.5 0l1.5-.1l1.2-.6l1.8-.8l1.5 0l1.5 0l1.5 0l1.5-.7l1.5-.8l1.5 0l1.5 0l1.5-.1l1.5-.3l1.5-.7l1.5-.4l1.5 0l1.5 0l1.5-.5l1.5-1.0l1.5 0l1.5 0l1.5 0l1.5-.1l1.5-.4l1.5-.7l1.5-.3l1.5 0l1.5 0l1.5 0l1.5-.1l1.5-1.4l1.5 0l1.5-1.5l1.5 0l1.4-.7l1.6-.8l1.5-.1l1.5-.2l1.2-.4l1.8-.8l1.5 0l1.5 0l1.5 0l1.3 .8l1.7 .7l1.0 .8l2.0 .7l.8 .8l2.2 .8l.7 .7l.8 .7l1.5 .7l1.5 .8l1.5 .7l.8 1.6l0 1.5l0 1.5l0 1.5l0 1.5l.1 1.5l.6 1.3l.8 1.7l0 1.5l0 1.5l-.8 .8l-1.5 .1l-1.5 .5l-1.5-.1l-1.5-.1l-1.5 0l-1.5-.1l-1.5-.3l-1.5 0l-1.5 0l-1.5-.2l-1.4-.6l-1.6-.4l-1.5 0l-1.4 .4l-1.6 .6l-1.5 .2l-1.5 0l-1.5 0l-1.5 0l-1.5 0l-1.5-.2l-1.5-1.2l-1.5-.1l-1.5 0l-1.5-.2l-1.5 0l-1.4 .9l-1.1 1.5l-1.4 1.5l-1.3 1.5l-.8 .8l-.7 .7l-.8 .8l-1.5 1.5l-1.5 1.5l-1.5 1.5l-1.0 .7l-2.0 1.0l-1.5 1.3l-1.5 0l-1.5 0l-1.5 0l-1.5 0l-1.5-.4l-1.5-.9l-1.5-.2l-1.5 0l-1.5 0l-1.5 0l-1.5 0l-1.5 0l-1.5 0l-1.5 .1l-1.5 0l-1.5 0l-1.5 0l-1.5-.1l-1.5 0l-1.5 0l-1.5 0l-1.5 0l-1.5 0l-1.5 0l-1.5 .1l-1.5 .5l-1.5 .6l-1.5 .1l-1.5-.4l-1.5-.7l-1.5-.2l-1.5 0l-1.5 0l-1.5 0l-.8-.8l0-1.5l0-1.5l-.1-1.5l-.2-1.5l-1.9-1.2l-1.5-.5l-1.5 .1l-1.5 .9l-1.5 0l-1.5 .7l-1.5 .8l-1.5 0l-1.0 .7l-2.0 .8l-1.5 0l-1.5 0l-1.5 .5l-1.5 1.0l-1.5 0l-1.5 0l-1.5 .6l-1.5 .9l-1.5 0l-1.5 0l-1.5 .2l-1.5 1.3l-1.5 0l-.8 .7l-2.2 .8l-1.5 0l-1.5 .1l-1.5 .4l-1.5 .8l-1.5 .2l-1.5 0l-1.5 0l-1.5 0l-1.5 0l-1.5 0l-1.5 0l-1.5 .1l-1.5-.1l-1.5 0l-1.5 0l-1.5 0l-1.5 0l-1.5 0l-1.5 0l-1.5 0l-1.5 0l-1.5 0l-1.5 0l-1.5 0l-1.5 0l-1.5 0l-1.5 0l-1.5 0l-1.5 0l-1.5 0l-1.5 0l-1.5 0l-1.5 0l-1.5 0l-.8-.8l-.1-1.5l-.3-1.5l-.3-1.5l-.3 1.5l-.3 1.5l-.1 1.5l-.8 .8l-1.5 0l-1.5 0l-1.5 0l-1.5 0l-1.5 0l-1.5 0l-1.5 0l-1.5 0l-1.5 0l-1.5 0l-1.5 0l-1.5 0l-1.5-.4l-1.5-.2l-1.5 .1l-1.5 .3l-1.5 .1l-1.5 0l-1.5-.7l-1.5-.7l-1.5 0l-1.5 0l-1.5-.1l-1.2-.7l-1.8-.7l-1.5 0l-1.5-.2l-1.5-1.1l-1.5-.2l-1.5 0l-1.5 .1l-1.5 .5l-1.5 .6l-1.5-.1l-1.5-.7l-1.5-.4l-1.5 0l-1.5 0l-1.5 0l-1.5 0l-1.5 0l-1.5 0l-1.5 0l-.9-.8l0-1.5l.1-1.5l-.1-1.5l-.6-1.3l-.6 1.3l-.1 1.5l.1 1.5l0 1.5l-.9 .8l-1.5 0l-1.5 0l-1.5 0l-1.5 0l-1.5 0l-1.5 0l-1.5 0l-1.5 0l-1.5 0l-1.5 0l-1.5-.3l-1.5-1.2l-1.5 0l-1.5 0l-1.5 0l-1.5 0l-1.5 0l-1.5 0l-1.5 0l-1.5 0l-1.5 0l-1.5 .1l-1.5 0l-1.5 .2l-1.5 .4l-1.5 .5l-1.5 0l-1.5-.3l-1.5-.3l-1.5 .1l-1.5 .4l-1.5 .2l-1.5-.1l-1.2-.5l-1.8-.6l-1.5-.1l-1.5 0l-1.5 0l-1.5 0l-1.5 0l-1.5 0l-1.5 0l-1.5 0l-1.5 0l-1.5 .3l-1.5 1.2l-1.5 0l-1.5 0l-1.5 0l-1.5 0l-1.5 0l-.8-.8l-.6-1.5l-1.6 .8l-1.5 0l-1.5 0l-1.5 .1l-1.3 .6l-1.7 .7l-1.5 .1l-1.5 0l-.8 .7l-.7 .7l-1.5 .1l-1.5 0l-1.5 .3l-1.5 0l-1.5 0l-1.5 .9l-1.5 .4l-1.5-.1l-1.5-.2l-1.4-.6l-1.6-.2l-1.5-.1l-1.5 0l-1.5-.1l-1.5 0l-1.5 0l-1.5-.1l-1.5 0l-1.5-.2l-1.4-.8l-1.6-.4l-1.5 0l-1.5 0l-1.5-.3l-1.5 0l-1.5 0l-.8-.8l0-1.5l-.7-1.5l.7-1.5l0-1.5l0-1.5l0-1.5l-2.2-.7l-1.5 .2l-1.5 .4l-1.5 .3l-1.5 .1l-1.5 .1l-1.5 .1l-1.5 .3l-1.5 0l-1.5 0l-1.5 0l-1.5 0l-1.5 .1l-1.5-.1l-1.5 0l-1.5 0l-1.5 0l-1.5-.5l-1.5-.8l-.7 2.0l0 1.5l0 1.5l1.5 1.5l0 1.5l-.8 .8l-1.5-.3l-1.3-.5l-1.7-.5l-1.5-.2l-1.5 0l-1.5 0l-1.5 0l-1.5 0l-1.5-.4l-1.5 .1l-1.5 .1l-1.5 .3l-1.5 .3l-1.5 .1l-1.5-.3l-1.5-.2l-1.5 0l-1.5 0l-1.5 0l-1.5 0l-1.5 0l-1.5 .1l-1.5-.1l-1.5 0l-1.5 0l-1.5 0l-1.5 0l-1.5 0l-1.5 0l-1.5 0l-1.5 0l-1.5-.5l-1.5-.2l-1.5 .1l-1.5 .1l-1.5 0l-1.5-.2l-1.5-.2l-1.5 0l-1.5 .3l-1.5 .2l-1.5 .1l-1.5 .1l-1.5 .2l-1.5 0l-1.5 0l-1.5-.2l-1.2-.6l-1.8-.6l-1.5-.1l-1.5 0l-1.5 0l-1.5 0l-1.5-.1l-1.5-.7l-1.5-1.5l0-1.5l0-1.5l.1-1.5l.3-1.5l1.1-.4l1.5-.1l1.5-.1l1.5 .1l1.5-.2l1.5-.1l1.5 0l1.2-.7l1.8-.8l.7-2.2l0-1.5l0-1.5l.8-.8l.7-2.2l0-1.5l0-1.5l0-1.5l.8-.8l.7-2.2l0-1.5l.2-1.5l1.3-1.5l0-1.5l.8-.8l1.5-1.5l1.5 0l1.5-1.5l1.5-.7l1.5-.3l1.5 1.0l.8 .8l0 1.5l0 1.5l0 1.5l0 1.5l0 1.5l2.2 .7l1.5 0l1.5 .2l1.5 1.0l1.5 0l1.5 .1l1.4-.5l.8-1.5l0-1.5l0-1.5l.8-.8l.7-2.2l.8-.8l1.5 0l1.5 0l1.5 0l1.5-.2l1.5-1.5l1.1-.5l1.9-.9l1.5 0l1.5 .9l1.5 .7l1.5 0l1.5 0l.8 .8l.5 1.5l1.0 1.5l1.5 1.5l0 1.5l0 1.5l.1 1.5l1.4 1.5l0 1.5l0 1.5l0 1.5l0 1.5l.7 1.1l.8 1.9l0 1.5l0 1.5l0 1.5l2.2 .7l1.5 0l1.5 0l1.5 0l1.5 0l1.5-.1l1.5-1.4l1.5-1.5l1.5-1.5l1.5 0l1.5 0l1.5 0l1.5 0l1.5 0l.7-.7l.8-.8l1.5 0l1.5-1.5l1.5 0l1.5-.3l1.5-1.1l1.5-.1l1.5 0l1.5 0l1.5-.7l1.5-.8l1.5 0l1.5-.2l1.5-1.2l1.5-.1l1.5 0l1.3-.7l1.7-.7l1.5-.1l1.5 0l1.5 0l1.5 0l1.5 0l1.5 0l1.5 0l1.5 0l1.5 0l1.5-.2l1.5-1.1l1.5-.2l1.5 0l1.2-.7l1.8-.8l1.5 0l1.5 0l1.5-.1l.9-.6l2.1-.8l1.5 0l1.5 0l1.5 .6l1.5 .8l1.5 .1l1.5 0l1.5-.2l.9-.5l1.0-1.5l0-1.5l0-1.5l.3-1.5l.8-.8l1.5-1.8l1.5-1.8l.4-1.6l1.1-1.1l.5-1.9l1.0-1.0l.7-2.0l-2.2-.7l-1.5 0l-1.5 0l-1.5 0l-1.5 0l-1.5 0l-1.5 0l-1.5 0l-1.5-.1l-1.5-1.5l-.8-2.2l-.7-1.5l-.8-1.5l0-1.5l0-1.5l0-1.5l0-1.5l.2-1.5l.6-1.3l.7-1.7l0-1.5l.8-.8l.7-2.2l.8-.8l1.5-2.0l1.5 .3l1.5-.3l1.5 .2l1.5 0l1.5 .3l1.5 0l1.5 0l1.5 0l1.5 0l1.5 .2l1.5 1.3l1.5 .3l1.5 1.2l1.5 0l1.5 0l1.5-1.5l.7-.7l.8-.8l.9-.7l1.3-1.5l.1-1.5l1.4-1.5zM648.8 289.0l.2 1.5l.5 1.2l.6-1.2l.1-1.5l-.7-1.4zM650.6 293.5l0 1.5l-.1 1.5l-.2 1.5l.3 1.5l1.1-1.5l-.3-1.5l-.2-1.5l0-1.5zM652.1 305.5l-.3 1.5l.7 .8l.7-.8l-.3-1.5zM650.5 322.0l-.2 1.5l.2 1.5l.5 1.0l.5-1.0l.2-1.5l-.3-1.5l-.4-1.3zM719.5 328.0l.5 1.4l.5-1.4zM749.3 328.0l-2.3 .6l-1.5 .6l-1.5 .8l-1.5 .9l-.4 1.6l1.9 1.0l1.5 .3l1.5 .2l1.5 0l1.5-.2l1.5-.3l1.5-.1l1.5-.1l1.5-.1l1.5 0l1.5-.2l1.5-.2l1.4-1.8l-1.4-.8l-1.2-.7l-1.8-.5l-1.5-.4l-1.5-.2l-1.5-.3l-1.5-.2l-1.5 0zM718.4 334.0l.1 1.5l.1-1.5zM246.0 259.7l1.5-.3l1.5 .3l1.5 .1l1.5 .6l1.5 .6l1.5 .1l.8 .9l0 1.5l.7 1.4l.5 1.6l-.1 1.5l-.6 1.5l-.4 1.5l-.1 1.5l0 1.5l0 1.5l0 1.5l0 1.5l0 1.5l0 1.5l0 1.5l0 1.5l0 1.5l0 1.5l0 1.5l0 1.5l0 1.5l-.1 1.5l-.7 1.3l-1.5 .3l-1.5 .1l-1.5 .7l-1.5-.6l-1.5-.1l-1.5-.3l-1.5-.2l-1.5 .1l-1.5 .4l-.8-1.7l.7-1.5l.8-1.5l.8-1.0l.8-2.0l.7-.8l.7-2.2l0-1.5l0-1.5l0-1.5l0-1.5l0-1.5l0-1.5l0-1.5l0-1.5l0-1.5l0-1.5l0-1.5l-.1-1.5l-.1-1.5l0-1.5l.2-1.5l0-1.5zM262.5 269.3l1.5 1.5l1.0 1.7l.1 1.5l0 1.5l-.1 1.5l-.4 1.5l-.4 1.5l-1.1 1.5l-.6 1.1l-1.1-1.1l-.9-1.5l-.1-1.5l-.1-1.5l.1-1.5l.2-1.5l.6-1.5l.6-1.5l.5-1.5zM993.0 275.5l1.5-.2l1.5 0l1.5 .1l1.5 .7l1.5 .5l1.5 .2l1.5 1.3l.3 1.9l-.3 1.3l-1.5 1.5l-1.5 .7l-1.5 .4l-1.5 .1l-1.5-.3l-1.5-.2l-1.5-.3l-1.5-1.1l-1.0-.6l-.8-1.5l0-1.5l1.2-1.5l2.1-1.5zM990.0 288.3l1.5 .3l1.5 0l1.5-.2l1.5-.1l1.5 .1l1.5 .5l1.5 .7l1.5 .1l1.5 0l1.5 0l1.5 0l1.5 .2l1.1 .6l1.9 .7l1.5 0l1.5 .7l1.5 .8l1.5 0l1.5 0l1.5 0l1.5 0l1.5 .3l1.5 1.0l1.5 .2l1.5 0l1.5 0l1.5 .7l1.5 .8l1.5 0l1.5 0l1.5 .1l1.5 1.4l1.5 .6l1.5 .9l.9 .8l2.1 .7l1.5 .5l1.5 1.0l1.5 0l1.4 .8l1.6 .7l1.5 0l.8 .8l1.7 1.5l2.0 .9l1.5 1.3l1.5 .1l.7 .7l.8 .7l.8 .8l1.5 1.5l2.2 .7l1.5 0l1.5 .5l1.5 .9l1.5 .1l1.5-1.5l1.5-1.5l1.5-1.5l1.5 0l1.5 0l1.5 0l1.5-.7l1.5-.4l1.5 .2l1.5 .6l1.5 .3l1.5-.1l1.1-.6l1.9-.8l.3 2.3l0 1.5l0 1.5l0 1.5l0 1.5l0 1.5l0 1.5l0 1.5l0 1.5l0 1.5l0 1.5l0 1.5l0 1.5l0 1.5l0 1.5l0 1.5l0 1.5l0 1.5l0 1.5l0 1.5l0 1.5l-1.8 .8l-1.5 .1l-1.5 0l-1.5-.1l-1.5 0l-1.5 0l-1.5-.6l-1.5-.8l-1.5-.1l-1.5 0l-1.5 0l-1.5 0l-1.5-.1l-1.5-.5l-1.5-.4l-1.2 .2l-1.8 .4l-1.5 .2l-1.5 .1l-1.5 .1l-1.5 0l-1.5 0l-1.5 .3l-1.5 .9l-1.5 .2l-1.5 .1l-1.5 0l-1.5 0l-1.5-.1l-1.5-.7l-1.5-.6l-1.5-.1l-1.5 0l-1.5 0l-1.5 0l-1.5 0l-1.5 0l-1.5 0l-1.5 0l-1.5 0l-1.5 0l-1.5 0l-1.5 0l-1.5 0l-1.5 0l-1.5-.3l-1.4-.5l-1.6-.5l-1.5-.2l-1.5 0l-1.5 0l-1.5 0l-.8-.8l0-1.5l0-1.5l.8-.8l.7-2.2l0-1.5l0-1.5l0-1.5l0-1.5l0-1.5l0-1.5l0-1.5l0-1.5l.8-.8l.7-2.2l0-1.5l0-1.5l0-1.5l-1.5-1.5l0-1.5l0-1.5l0-1.5l-.7-1.3l-1.3-1.7l-1.7-1.1l-1.5-1.2l-1.5-1.4l-1.5-.3l-1.5-1.2l-1.5 0l-1.5 0l-1.5-.3l-1.5-1.1l-1.5-.1l-1.5-.3l-1.5-1.2l-1.5 0l-1.5 0l-1.5 0l-1.5-.2l-.8-2.1l0-1.5l.1-1.5zM502.5 297.8l1.5-.1l1.5 0l1.5 .3l1.5 .7l1.5 .3l1.5 1.1l.6 .9l-.1 1.5l-.4 1.5l-1.6 1.2l-1.5 .7l-1.5 .1l-1.5 .1l-1.5 0l-1.5 0l-1.5 .1l-1.5 0l-1.5 .1l-1.5 .2l-1.5 .1l-1.5 0l-1.5-.2l-1.5-.2l-1.5-.3l-1.5-1.6l-.3-1.8l1.6-1.5l1.7-.8l1.0-.7l2.0-.6l1.5-.2l1.5-.1l1.5-.2l1.5-.1l1.5-.2zM955.5 302.4l1.5-.2l1.5-.1l1.5-.1l1.5-.3l1.5-.1l1.5 .1l1.5 .2l1.5 .1l1.5 .1l1.5 .1l1.5 0l1.5 .1l1.5 .4l1.5 .5l1.5 .2l1.5 .2l1.5 .1l1.5 .1l1.5 0l1.5 .1l1.5 1.0l1.5 .5l1.5 1.5l.2 1.6l-.2 1.4l-1.5 1.1l-1.5 .8l-1.4 1.2l-1.6 .5l-1.2 1.0l-1.8 .9l-1.1 .6l-1.9 .3l-1.5 .2l-1.5 .3l-1.5 .2l-1.5 .5l1.5 .4l1.5 .1l1.5 .3l1.5 .3l1.5 .1l1.5 0l1.5 0l1.5-.3l1.4-.9l1.6-.1l1.5 0l1.5 .1l1.5 .9l1.5 .3l1.5 .2l1.5 1.4l1.5 1.2l1.5 .4l1.5 1.0l1.5 .5l1.5 .8l1.0 .8l.6 1.5l.5 1.5l.4 1.5l-.8 1.5l-1.2 1.5l-2.0 1.5l-1.5 .2l-1.5 1.3l-1.5 .2l-1.4 1.3l-1.6 .8l-.9 .7l-2.1 .4l-1.5 .7l-1.3 .4l-1.7 .1l-1.5 0l-1.5 0l-1.5 0l-1.5 0l-1.5 .1l-1.5 0l-1.5 .1l-1.5 0l-1.5-.1l-1.5 0l-1.5 0l-1.5-.1l-1.5-.1l-1.5-.2l-1.5-.3l-1.5 0l-1.5 .1l-1.4 .4l-1.6 .1l-1.5 0l-1.5 .1l-1.5-.1l-1.5-.9l-1.5-.5l-1.5-1.4l-1.5-.3l-1.5-1.4l-1.5-1.5l-1.5-1.6l-.2-1.5l-1.3-1.5l-.1-1.5l0-1.5l0-1.5l1.3-1.5l1.8-1.5l1.5-.2l1.5-.1l1.5-.3l1.4-.9l1.6-.2l1.5-.1l1.5-.1l1.5-1.0l1.5-.4l1.5-.1l1.4-1.1l-1.4-1.1l-1.5 .2l-1.5 0l-1.5-.3l-1.5-.1l-1.5-.2l-1.5-1.2l-1.5-.1l-1.5-1.2l-1.5-.4l-1.5-1.3l-1.5-.2l-1.5-1.4l-1.5-.2l-.5-1.5l.2-1.5l1.7-1.5l1.6-.2l1.5-.1l1.5-.3l1.3-.9l1.7-.2l1.5-.1l1.5-.1l1.5-.6l1.1-.5zM127.5 305.7l1.5 .3l1.0 1.0l.5 1.2l.3 1.8l0 1.5l-.2 1.5l-.5 1.5l-.9 1.5l-1.5 1.5l-.4-1.5l-.1-1.5l0-1.5l0-1.5l0-1.5l0-1.5l.1-1.5z"/>
<path fill="#737373" d="M1009.5 184.9l1.5-.5l1.5-.1l1.5 .1l1.5 .6l1.0 .5l1.8 1.5l.8 1.5l0 1.5l-.6 1.5l-1.1 1.5l-1.9 1.2l-1.2 .3l-1.8 .1l-1.5-.1l-1.5-.1l-1.5-.3l-1.5-1.1l-.7-1.5l-.1-1.5l.3-1.5l.5-1.1l1.5-1.7zM429.0 190.0l1.5-.6l1.5-.4l1.5-.3l1.5 0l1.5 .1l1.5 .2l1.5 .2l1.5 .2l1.5 .1l1.5 .1l1.5 .3l.5 1.6l-2.0 1.4l-1.5 .7l-1.5 .4l-1.5 .2l-1.5 .1l-1.5-.1l-1.5-.1l-1.5-.3l-1.5-.5l-1.5-.7l-1.5-.9l0-1.7zM1057.5 189.8l1.5-.5l1.5-.3l1.5 .1l1.5 .5l1.5 .8l1.5 1.0l1.5 1.3l1.5 1.5l1.5 1.8l.8 1.5l.4 1.5l0 1.5l-.1 1.5l-.2 1.5l-.5 1.5l-1.2 1.5l-2.2 1.3l-1.5 .6l-1.5 .7l-1.3 .4l-1.7 .3l-1.5-.1l-1.5-.3l-1.5-.4l-1.5-.3l-1.5-.3l-1.5-.2l-1.3-.2l-1.7-.4l-1.5-.6l-1.5-.9l-1.5-1.0l-1.5-1.5l-.8-1.6l-.1-1.5l.3-1.5l.4-1.5l.8-1.5l.9-1.2l1.5-1.4l1.5-.9l1.5-.5l1.5-.4l1.5-.3l1.5-.4l1.5-.5zM460.5 192.1l1.5-.1l1.5 .1l1.5 0l1.5 0l1.5-.1l1.5 0l1.5 .1l1.5 .2l1.5 .2l1.5 .4l1.5 .3l1.5 0l1.5 0l1.5-.1l1.5-.1l1.5 .2l1.5 .2l1.5 .2l1.5 .2l1.5 .1l1.5 .2l1.5 .1l1.5-.1l1.5-.3l1.5-.3l1.5 .6l.3 1.9l-.1 1.5l-.1 1.5l-.1 1.5l0 1.5l0 1.5l.2 1.5l.2 1.5l-1.9 1.3l-1.5 .3l-1.5 .2l-1.5 0l-.5-1.8l0-1.5l0-1.5l.1-1.5l.2-1.5l-1.3-.8l-1.5-.3l-1.5-.7l-1.5-.3l-1.5 0l-1.5 0l-1.5 0l-1.5 0l-1.5 .3l-1.5 .2l-1.5 .1l-1.4 0l-1.6-.2l-1.5-.1l-1.5 .1l-1.5 .2l-1.5 .3l-1.5 .2l-1.1 1.0l.1 1.5l.1 1.5l.2 1.5l.1 1.5l-.9 .6l-1.5 0l-1.5 0l-1.5 0l-1.5-.3l-.2-1.8l0-1.5l.2-1.5l.6-1.5l.4-1.5l.2-1.5l0-1.5l.3-1.2l-.3-1.8zM612.0 192.5l1.5-.4l1.5 0l1.5 0l1.5 0l1.5 .2l1.5 .5l.8 1.7l0 1.5l0 1.5l0 1.5l0 1.5l0 1.5l0 1.5l0 1.5l0 1.5l0 1.5l0 1.5l0 1.5l0 1.5l0 1.5l0 1.5l0 1.5l0 1.5l-.3 1.5l-2.0 .9l-1.5 .2l-1.5 0l-1.5 0l-1.5 0l-1.5-.4l-1.5-.7l-.3-1.5l0-1.5l0-1.5l0-1.5l0-1.5l0-1.5l0-1.5l0-1.5l0-1.5l0-1.5l0-1.5l0-1.5l0-1.5l0-1.5l0-1.5l0-1.5l0-1.5l.5-1.5zM996.0 198.9l1.5-.1l1.5 0l1.5 0l1.3 .2l1.7 .8l.9 .7l.6 1.2l-.2 1.8l-1.1 1.5l-1.7 1.1l-1.5 .6l-1.5 .1l-1.5-.1l-1.2-.2l-1.8-.7l-1.4-.8l-1.3-1.5l-.6-1.5l0-1.5l1.8-1.2l1.5-.3zM355.5 202.1l1.5 0l1.5 0l1.5 0l1.5 0l1.5 0l1.5 0l1.5 0l1.5 0l1.5 0l1.5 0l1.5 0l1.5 0l1.5 0l1.3 1.4l0 1.5l-.5 1.5l-2.3 .4l-1.5 0l-1.5 0l-1.5 0l-1.5 0l-1.5 0l-1.5 0l-1.5 0l-1.5 0l-1.5 .3l-.5 2.3l0 1.5l0 1.5l0 1.5l-1.0 1.5l-1.5 0l-1.5 0l-1.0-1.5l0-1.5l0-1.5l0-1.5l0-1.5l0-1.5l-.2-1.5l0-1.5zM195.0 209.2l1.5-.2l1.5 1.9l.2 1.6l.2 1.5l1.1 1.5l.4 1.5l.8 1.5l.4 1.5l0 1.5l-.1 1.5l-.9 1.5l-.2 1.5l-.3 1.5l-1.4 1.5l-1.7 .4l-1.5-1.2l-.4-2.2l0-1.5l.1-1.5l0-1.5l-.1-1.5l-.1-1.5l-.2-1.5l-.4-1.5l-.4-1.2l-.1-1.8l.1-1.5l1.3-1.5zM247.5 260.4l1.5 1.2l.6 1.9l.5 1.5l0 1.5l-.5 1.5l-.3 1.5l-1.8 .2l-.6-1.7l-.3-1.5l-.4-1.5l.2-1.5l.5-1.5l.4-1.5zM562.5 263.5l1.5-.1l1.5 .1l1.5 1.1l1.5 .1l1.5 .2l1.5 1.1l1.5 .2l1.5 1.1l1.5 .3l1.5 .7l1.5 .7l1.5 .4l1.5 1.1l1.5 .5l1.5 1.2l1.5 1.6l.6 1.7l.9 1.1l1.5 1.8l.8 1.6l.7 .8l1.5 2.0l.4 1.7l.6 1.5l2.0 1.1l1.5 .1l1.5 0l1.5-.1l1.5 .2l1.5 .9l1.5 .4l1.5 0l1.5 0l1.5 0l1.5 0l1.5 0l1.5 0l1.5 0l1.5 1.1l1.5 .4l1.5 0l1.5 0l1.5 0l1.5 0l1.5 0l1.5 0l1.5 0l1.5 0l1.5 0l1.5 0l1.5 0l1.5 0l1.5 0l1.5 0l1.5 0l1.5 .1l.6 1.8l.9 1.3l.4 1.7l0 1.5l.2 1.5l.9 .9l.4 2.1l0 1.5l.1 1.5l-.1 1.5l0 1.5l0 1.5l0 1.5l0 1.5l0 1.5l-1.1 1.5l-.4 1.5l0 1.5l0 1.5l0 1.5l-1.9 .4l-1.5 0l-1.5 0l-1.5 0l-1.5 0l-1.5 0l-1.5 0l-1.5 0l-1.5 0l-1.5-.1l-1.5-1.2l-1.5-.2l-1.5 0l-1.5 0l-1.5 0l-1.5 0l-1.5 0l-1.5 0l-1.5 0l-1.5 0l-1.5 0l-1.4 1.1l-1.6 .4l-1.5 0l-1.5 0l-1.5 0l-1.5-.1l-1.5-1.1l-1.5-.3l-1.5-1.5l-1.5 0l-1.5-.3l-1.5-1.2l-1.5 0l-1.5 0l-1.5 0l-1.5 0l-1.5 0l-1.5 0l-1.5-1.2l-1.5-.3l-1.5 0l-1.5 .1l-1.0 1.0l-2.0 .4l-1.5 0l-1.5 0l-1.5 .2l-1.5 .4l-1.0 .5l-2.0 .4l-.4-1.9l0-1.5l.1-1.5l-.1-1.5l0-1.5l0-1.5l-.4-1.5l-.7-.8l-.2-2.2l0-1.5l0-1.5l1.3-1.5l.2-1.5l1.5-1.5l1.5-1.5l.1-1.5l1.4-1.5l1.1-1.5l.4-1.5l1.7-.4l1.5-.1l1.5-.1l1.5 0l1.5 0l1.5-.1l1.5-.2l1.5 0l1.5 .2l1.5-.1l.9-.7l-.9-.6l-1.5-.4l-1.5-1.6l-1.5-1.1l-1.5-.6l-1.5-1.3l-1.2-.4l-1.8-1.2l-1.5-1.4l-1.5-1.4l-1.5-1.2l-1.5-.7l-1.5-1.2l-1.5-1.4l-1.5-1.2l-.9-.8l-1.1-1.5l-1.0-1.2l-.6-1.8l-.9-1.3l0-1.7zM262.5 272.3l1.5 1.3l.1 1.9l-.5 1.5l-1.0 1.5l-.5-1.5l0-1.5l.1-1.5l.2-1.5zM252.0 276.8l1.5 1.5l.4 1.7l.1 1.5l0 1.5l-.1 1.5l-.1 1.5l-.2 1.5l-.9 1.5l-.2 1.5l-.5 1.5l-1.2 1.5l-1.8-1.3l.9-1.7l0-1.5l.1-1.5l.3-1.5l.7-1.5l.2-1.5l.1-1.5l.1-1.5l.1-1.5l.3-1.5zM654.0 288.9l1.5-.2l1.5 0l1.5 .2l1.5 .3l1.5 .8l1.5 .5l.3 1.5l-.1 1.5l-1.4 1.5l-1.8 .7l-1.5 .2l-1.5-.4l-1.5-.3l-1.5-1.5l-.8-1.7l-.3-1.5l1.0-1.5zM457.5 297.9l1.5-.3l1.5 .1l1.5 1.7l.2 1.6l.1 1.5l.1 1.5l.2 1.5l0 1.5l-.2 1.5l-.1 1.5l-.2 1.5l-1.1 1.5l-.5 1.5l-1.5 .3l-1.5 .2l-1.5-.2l-1.5-.2l-1.5-1.5l-1.5-.1l-1.5 .1l-1.5 .1l-1.5 0l-1.5 .1l-1.5 .1l-1.5 .3l-1.5 .1l-1.5-.2l-1.5-.4l-1.5-.1l-1.5-.8l-1.5 1.0l-1.5 .2l-1.5-.2l-1.5-.2l-1.5-1.3l-1.5-1.8l.8-1.5l.5-1.5l1.7-1.2l1.5-.4l1.5 .2l1.5 1.2l1.5 1.6l1.5 .1l1.5-.1l1.5 0l1.5 .1l1.5 0l1.5 .8l1.5 .3l1.5 .2l1.5 0l1.5 .2l1.5 1.1l0-2.3l.1-1.8l.5-1.5l.4-1.5l.3-1.5l1.1-1.5l.6-1.1l1.5-1.0l1.1-.9zM676.5 297.8l1.5-.2l1.5 0l1.5 .4l.1 1.5l-1.6 .4l-1.5 0l-1.2-.4l-.5-1.5zM693.0 299.1l1.5-.2l1.5 0l1.5 .1l1.5 .1l1.5 .2l1.5 .1l1.5 .8l1.5 .5l-.5 1.8l-2.5 .5l-1.5 .1l-1.5 .2l-1.5 .4l-1.5 .5l-1.5 .2l-1.5 .2l-1.5 .2l-1.5 0l-1.5-.2l-1.5 .9l1.5 1.5l1.5 1.4l1.5 1.5l1.5 1.6l0 1.5l0 1.5l-1.3 1.5l-.2 1.5l-1.5 1.5l-1.4 1.5l-1.5 1.5l-1.5 1.5l-1.6 .2l-1.4 1.3l-1.6 .1l-1.5 0l-1.5 1.4l-1.5 0l-1.5 .1l-1.5 0l-1.5 0l-1.5-.1l-1.5 0l-1.5-.6l-1.5-.7l-1.5-.1l-1.5 0l-1.5-.1l-1.5 0l-1.5-1.2l-1.5-.2l-1.5 0l-1.5-1.1l-1.5-1.9l-.6-1.6l-.9-1.1l-1.5-1.9l0-1.5l1.4-1.5l.1-1.5l1.5-1.5l1.5-1.5l1.5-1.5l1.5-1.5l1.5-.1l1.5-1.4l1.5-.1l1.5-1.4l1.5-.1l1.5-1.4l1.5-.1l1.5 0l1.5 0l1.5 0l1.5 .1l1.5 .8l1.5 .6l1.5 0l1.5 0l1.5 .1l1.5 1.4l1.2-1.4l1.8-.8l1.2-.7l1.8-.4l1.5-.2l1.5-.8zM667.5 307.0l-1.5 .3l-1.5 .5l-1.5 .4l-1.5 .8l-1.5 .7l-1.5 1.2l-1.4 2.1l.4 1.5l1.0 1.0l1.5 1.1l1.5 .7l1.5 .5l1.5 .2l1.5 .1l1.5-.1l1.5-.1l1.5-.1l1.5 0l1.5 .2l1.5 0l1.5 0l1.5-.1l1.5-.3l1.5-.5l1.5-.5l1.2-.6l1.8-.9l1.2-.6l1.7-1.5l0-1.5l-1.4-1.2l-1.5-.9l-1.5-.5l-1.5-.4l-1.5-.3l-1.5-.1l-1.5-.1l-1.5 0l-1.5-.1l-1.5-.3l-1.5-.3l-1.5-.2l-1.5-.3l-1.5 .2zM495.0 300.7l1.5-.3l1.5-.3l1.5-.3l1.5 .1l1.5 .5l1.5 .4l.1 1.7l-1.6 .5l-1.5 .3l-1.5 .3l-1.5 .1l-1.5 0l-1.5-.2l-1.5-.7l.8-1.8zM1041.0 305.4l1.5-.2l1.5-.1l1.5-.1l1.5-.1l1.5 .1l1.5 .1l1.5 .2l1.5 1.1l1.4 .6l.4 1.5l.1 1.5l-.2 1.5l-1.6 1.5l-1.6 .7l-1.1 .8l-1.9 .5l-1.5 0l-1.5 0l-1.5-.2l-1.5-.6l-1.5-1.0l-1.5-1.4l-.9-1.8l-.4-1.5l1.0-1.5l1.7-1.5zM511.5 315.9l1.5-.1l1.5-.1l1.5 .1l1.5 .1l1.5 1.5l-1.3 1.6l-1.7 .2l-1.5 0l-1.5 0l-1.5 0l-1.5-.1l-1.5-1.5l1.5-.4l1.3-1.2zM720.0 324.6l1.5-.8l1.5 .4l-1.5 2.0l-1.5-.1l-.7-1.1zM988.5 324.9l1.5 0l1.5 .2l1.5 1.1l1.2 .3l1.5 1.5l.4 1.5l-1.4 1.5l-1.4 1.5l-1.5 1.5l-1.8 1.5l-1.5 .1l-1.5-.1l-1.5-1.0l-1.5-.2l-1.5-.1l-1.5-.1l-1.5-1.1l-1.5-.4l-.5-1.6l-.1-1.5l.6-.9l1.5-1.1l1.5-.4l1.1-.6l1.9-.3l1.5-.2l1.5-.3l1.2-.7zM526.5 331.0l1.5 .7l1.5 .6l1.5 0l1.5 0l1.5 0l1.5-.2l1.5-.3l1.5-.7l1.5-.1l1.5 0l1.5 .9l1.5 .3l1.5 .1l1.5 .1l1.5 .1l1.5 1.3l1.5 0l1.5 .1l1.5 0l1.5 .1l.1 1.5l-.1 1.5l-1.5 .1l-1.4 1.4l-1.6 0l-1.5 .1l-1.5 .1l-1.5 .1l-1.5 0l-1.5-.1l-1.5-.1l-1.5 0l-1.5 0l-1.5-.1l-1.5 0l-1.5 0l-1.5 0l-1.5-.7l-1.5-.3l-1.5-.3l-1.5-.1l-1.5-.1l-1.5 0l-1.5-.3l-1.5-1.1l-1.5-.1l-1.5-1.5l1.5-.2l1.4-1.3l1.6-.1l1.5-.4l1.4-1.0z"/>
<path fill="#555555" d="M1009.5 186.7l1.5-.5l1.5-.1l1.5 .3l1.2 .6l1.1 1.5l0 1.5l-.8 1.5l-1.5 .9l-1.5 .2l-1.5 0l-1.5-.1l-1.5-.9l-.5-1.6l.3-1.5l1.3-1.5zM1057.5 191.4l1.5-.1l1.5-.1l1.5 .1l1.5 .2l1.5 1.3l1.5 1.5l1.5 1.6l1.5 1.6l.2 1.5l0 1.5l-.1 1.5l-.1 1.5l-1.5 1.5l-1.5 .4l-1.4 1.1l-1.6 .2l-1.5 .2l-1.5 .1l-1.5 0l-1.5-.1l-1.5-.2l-1.5-.1l-1.5 0l-1.5-.3l-1.5-1.0l-1.5-.3l-1.5-1.4l-1.5-1.6l0-1.5l0-1.5l1.2-1.5l.3-1.5l1.5-1.5l1.5-.3l1.5-.7l1.0-.5l2.0-.2l1.5-.4l1.3-.9zM462.0 192.7l1.5 0l1.5 .1l1.5 0l1.5-.1l1.5 0l1.5 .1l1.5 .2l1.5 .8l1.5 .2l1.5 .1l1.5 0l1.5 0l1.5 0l1.5 0l1.5 0l1.5 .1l1.5 0l1.5 .1l1.5 .6l1.5 .4l1.5 .1l1.5-.2l1.5-.6l1.5-.4l.6 1.8l-.1 1.5l-.5 1.5l-1.5 0l-1.5 1.5l-1.5-1.4l-1.5-.6l-1.5-.5l-1.5-.1l-1.5-.1l-1.5 0l-1.5-.1l-1.5 .1l-1.5 0l-1.5 0l-1.5 .1l-1.5 0l-1.5 0l-1.5 0l-1.5 0l-1.5 0l-1.5 0l-1.5 .1l-1.5 .2l-1.5 .2l-1.5 .2l-1.5 0l-.6-1.1l0-1.5l.2-1.5l-.2-1.5zM615.0 193.0l1.5 0l1.5 0l1.4 1.5l0 1.5l0 1.5l0 1.5l0 1.5l0 1.5l0 1.5l0 1.5l0 1.5l0 1.5l0 1.5l0 1.5l0 1.5l0 1.5l0 1.5l0 1.5l0 1.5l-.7 1.5l-2.2 .2l-1.5 0l-1.5-.1l-.9-1.6l0-1.5l0-1.5l0-1.5l0-1.5l0-1.5l0-1.5l0-1.5l0-1.5l0-1.5l0-1.5l0-1.5l0-1.5l0-1.5l0-1.5l0-1.5l0-1.5l.9-1.2l1.2-.3zM355.5 203.4l1.5-.1l1.5 0l1.5 0l1.5 0l1.5 0l1.5 0l1.5 0l1.5 0l1.5 0l1.5 0l1.5 0l1.5 0l1.5 0l.2 1.7l-1.7 .6l-1.5 0l-1.5 0l-1.5 0l-1.5 0l-1.5 0l-1.5 0l-1.5 0l-1.5 0l-1.5 0l-1.5 .9l0 1.5l0 1.5l0 1.5l0 1.5l0 1.5l-1.5 .3l-1.5-.3l0-1.5l0-1.5l0-1.5l0-1.5l0-1.5l-.1-1.5l0-1.5zM196.5 214.4l.6 1.1l.9 .9l.9 2.1l.4 1.5l-.2 1.5l-.6 1.5l-.5 1.1l-1.4-1.1l-.2-1.5l-.2-1.5l-.2-1.5l-.1-1.5l0-1.5zM570.0 268.2l1.5 0l1.5 .4l1.5 .5l1.4 .4l1.6 .7l1.5 .7l1.5 .8l1.5 .8l1.5 1.1l1.5 1.5l1.1 1.9l.8 1.5l.8 1.5l.6 1.5l-.2 1.5l-1.6-.1l-1.5-.7l-1.3-.7l-1.7-1.0l-1.5-.9l-1.5-.9l-1.5-1.1l-1.5-1.2l-1.3-.9l-1.7-1.3l-1.5-1.2l-1.5-1.5l-1.1-2.0zM693.0 300.9l1.5-.2l1.5 0l1.5 .2l-1.5 .8l-1.5 .6l-1.5 .4l-1.5 .1l-1.3-.3l1.3-.5l1.2-1.0zM456.0 303.7l1.5-.6l1.0 .9l.7 1.5l.1 1.5l-.3 1.5l-1.0 1.5l-1.7 0l-.9-1.5l-.2-1.5l.1-1.5l.5-1.5zM1044.0 308.4l1.5-.1l1.5-.1l1.5 .1l1.5 .8l.6 .9l-.5 1.5l-1.6 .9l-1.5 .4l-1.5-.4l-1.5-.8l-1.4-1.6l1.0-1.5z"/>
</g>
<line x1="127.5" x2="1094.6" y1="321.5" y2="321.5" stroke="#777" stroke-width="1" stroke-dasharray="1 2.05"/>
<line x1="127.5" x2="1094.6" y1="284.5" y2="284.5" stroke="#777" stroke-width="1" stroke-dasharray="1 2.05"/>
<line x1="127.5" x2="1094.6" y1="246.5" y2="246.5" stroke="#777" stroke-width="1" stroke-dasharray="1 2.05"/>
<line x1="127.5" x2="1094.6" y1="209.5" y2="209.5" stroke="#777" stroke-width="1" stroke-dasharray="1 2.05"/>
<line x1="127.5" x2="1094.6" y1="172.5" y2="172.5" stroke="#777" stroke-width="1" stroke-dasharray="1 2.05"/>
<line x1="265.5" x2="265.5" y1="97.5" y2="359.5" stroke="#808080" stroke-width="1"/>
<line x1="403.5" x2="403.5" y1="97.5" y2="359.5" stroke="#808080" stroke-width="1"/>
<line x1="541.5" x2="541.5" y1="97.5" y2="359.5" stroke="#808080" stroke-width="1"/>
<line x1="680.5" x2="680.5" y1="97.5" y2="359.5" stroke="#808080" stroke-width="1"/>
<line x1="818.5" x2="818.5" y1="97.5" y2="359.5" stroke="#808080" stroke-width="1"/>
<line x1="956.5" x2="956.5" y1="97.5" y2="359.5" stroke="#808080" stroke-width="1"/>
<g clip-path="url(#axclip)">
<rect x="125.3" y="358.2" width="3.75" height="1.3" fill="#0055ff"/>
<rect x="257.7" y="357.5" width="3.75" height="2.0" fill="#0055ff"/>
<rect x="263.5" y="355.3" width="3.75" height="4.2" fill="#0055ff"/>
<rect x="269.2" y="354.4" width="3.75" height="5.1" fill="#0055ff"/>
<rect x="275.0" y="355.3" width="3.75" height="4.2" fill="#0055ff"/>
<rect x="280.8" y="357.5" width="3.75" height="2.0" fill="#0055ff"/>
<rect x="418.9" y="358.5" width="3.75" height="1.0" fill="#0055ff"/>
<rect x="424.7" y="358.5" width="3.75" height="1.0" fill="#0055ff"/>
<rect x="430.4" y="358.5" width="3.75" height="1.0" fill="#0055ff"/>
<rect x="447.7" y="358.5" width="3.75" height="1.0" fill="#0055ff"/>
<rect x="453.4" y="357.5" width="3.75" height="2.0" fill="#0055ff"/>
<rect x="459.2" y="357.5" width="3.75" height="2.0" fill="#0055ff"/>
<rect x="465.0" y="356.5" width="3.75" height="3.0" fill="#0055ff"/>
<rect x="470.7" y="356.5" width="3.75" height="3.0" fill="#0055ff"/>
<rect x="476.5" y="357.5" width="3.75" height="2.0" fill="#0055ff"/>
<rect x="482.2" y="357.5" width="3.75" height="2.0" fill="#0055ff"/>
<rect x="488.0" y="358.3" width="3.75" height="1.2" fill="#0055ff"/>
<rect x="493.7" y="358.3" width="3.75" height="1.2" fill="#0055ff"/>
<rect x="499.5" y="357.5" width="3.75" height="2.0" fill="#0055ff"/>
<rect x="505.3" y="356.5" width="3.75" height="3.0" fill="#0055ff"/>
<rect x="511.0" y="355.5" width="3.75" height="4.0" fill="#0055ff"/>
<rect x="516.8" y="352.5" width="3.75" height="7.0" fill="#0055ff"/>
<rect x="522.5" y="349.5" width="3.75" height="10.0" fill="#0055ff"/>
<rect x="528.3" y="347.5" width="3.75" height="12.0" fill="#0055ff"/>
<rect x="534.0" y="347.5" width="3.75" height="12.0" fill="#0055ff"/>
<rect x="539.8" y="344.3" width="3.75" height="15.2" fill="#0055ff"/>
<rect x="545.6" y="350.5" width="3.75" height="9.0" fill="#0055ff"/>
<rect x="551.3" y="333.5" width="3.75" height="19.9" fill="#0055ff"/>
<rect x="551.3" y="353.4" width="3.75" height="6.1" fill="#1cd6c6"/>
<rect x="557.1" y="336.5" width="3.75" height="18.7" fill="#0055ff"/>
<rect x="557.1" y="355.2" width="3.75" height="4.3" fill="#1cd6c6"/>
<rect x="562.8" y="323.5" width="3.75" height="36.0" fill="#0055ff"/>
<rect x="568.6" y="309.5" width="3.75" height="50.0" fill="#0055ff"/>
<rect x="574.3" y="325.5" width="3.75" height="31.0" fill="#0055ff"/>
<rect x="574.3" y="356.5" width="3.75" height="3.0" fill="#1cd6c6"/>
<rect x="580.1" y="313.5" width="3.75" height="46.0" fill="#0055ff"/>
<rect x="585.8" y="280.5" width="3.75" height="79.0" fill="#0055ff"/>
<rect x="591.6" y="289.5" width="3.75" height="70.0" fill="#0055ff"/>
<rect x="597.4" y="252.5" width="3.75" height="107.0" fill="#0055ff"/>
<rect x="603.1" y="218.5" width="3.75" height="141.0" fill="#0055ff"/>
<rect x="608.9" y="228.5" width="3.75" height="131.0" fill="#0055ff"/>
<rect x="614.6" y="252.5" width="3.75" height="107.0" fill="#0055ff"/>
<rect x="620.4" y="230.5" width="3.75" height="129.0" fill="#0055ff"/>
<rect x="626.1" y="227.5" width="3.75" height="132.0" fill="#0055ff"/>
<rect x="631.9" y="235.5" width="3.75" height="124.0" fill="#0055ff"/>
<rect x="637.7" y="237.5" width="3.75" height="122.0" fill="#0055ff"/>
<rect x="643.4" y="265.5" width="3.75" height="94.0" fill="#0055ff"/>
<rect x="649.2" y="301.5" width="3.75" height="58.0" fill="#0055ff"/>
<rect x="654.9" y="311.5" width="3.75" height="48.0" fill="#0055ff"/>
<rect x="660.7" y="313.5" width="3.75" height="46.0" fill="#0055ff"/>
<rect x="666.4" y="303.5" width="3.75" height="56.0" fill="#0055ff"/>
<rect x="672.2" y="293.5" width="3.75" height="66.0" fill="#0055ff"/>
<rect x="678.0" y="310.5" width="3.75" height="49.0" fill="#0055ff"/>
<rect x="683.7" y="338.5" width="3.75" height="21.0" fill="#0055ff"/>
<rect x="712.5" y="314.3" width="3.75" height="45.2" fill="#0055ff"/>
<rect x="741.3" y="340.2" width="3.75" height="9.0" fill="#0055ff"/>
<rect x="741.3" y="349.2" width="3.75" height="10.3" fill="#1cd6c6"/>
<rect x="747.0" y="336.2" width="3.75" height="9.6" fill="#0055ff"/>
<rect x="747.0" y="345.8" width="3.75" height="13.7" fill="#1cd6c6"/>
<rect x="752.8" y="331.3" width="3.75" height="14.5" fill="#0055ff"/>
<rect x="752.8" y="345.8" width="3.75" height="13.7" fill="#1cd6c6"/>
<rect x="758.5" y="325.3" width="3.75" height="19.9" fill="#0055ff"/>
<rect x="758.5" y="345.2" width="3.75" height="14.3" fill="#1cd6c6"/>
<rect x="816.1" y="328.3" width="3.75" height="31.2" fill="#0055ff"/>
<rect x="856.4" y="328.3" width="3.75" height="19.9" fill="#0055ff"/>
<rect x="856.4" y="348.2" width="3.75" height="11.3" fill="#1cd6c6"/>
<rect x="862.2" y="328.3" width="3.75" height="17.9" fill="#0055ff"/>
<rect x="862.2" y="346.2" width="3.75" height="13.3" fill="#1cd6c6"/>
<rect x="867.9" y="330.3" width="3.75" height="17.9" fill="#0055ff"/>
<rect x="867.9" y="348.2" width="3.75" height="11.3" fill="#1cd6c6"/>
<rect x="885.2" y="334.2" width="3.75" height="14.0" fill="#0055ff"/>
<rect x="885.2" y="348.2" width="3.75" height="11.3" fill="#1cd6c6"/>
<rect x="890.9" y="346.2" width="3.75" height="10.4" fill="#0055ff"/>
<rect x="890.9" y="356.6" width="3.75" height="2.9" fill="#1cd6c6"/>
<rect x="902.5" y="345.2" width="3.75" height="14.3" fill="#0055ff"/>
<rect x="1011.8" y="354.5" width="3.75" height="5.0" fill="#0055ff"/>
<rect x="1086.7" y="346.3" width="3.75" height="13.2" fill="#1cd6c6"/>
<rect x="1092.4" y="349.1" width="3.75" height="10.4" fill="#1cd6c6"/>
</g>
<path d="M127.9 270.1C128.6 271.6 132.1 278.4 133.5 281.0C134.9 283.6 137.3 288.8 138.7 289.5C140.1 290.2 142.3 286.1 143.7 286.6C145.1 287.1 147.8 292.4 149.3 293.4C150.8 294.4 153.4 293.6 155.0 294.0C156.6 294.4 159.6 296.8 161.3 296.7C163.0 296.6 165.8 295.1 167.4 293.4C169.0 291.7 171.3 287.8 173.0 284.3C174.7 280.8 177.8 271.9 179.8 267.4C181.8 262.9 185.6 253.8 187.7 250.5C189.8 247.2 193.8 243.9 195.6 242.6C197.4 241.3 199.8 240.9 201.3 240.8C202.8 240.7 205.2 241.1 206.9 242.1C208.6 243.1 211.7 245.6 213.7 248.2C215.7 250.8 219.5 258.0 221.6 261.8C223.7 265.6 227.5 273.3 229.5 276.4C231.5 279.5 234.0 283.6 236.3 285.0C238.6 286.4 243.5 286.1 246.4 286.6C249.3 287.1 255.0 288.1 257.7 288.9C260.4 289.7 264.0 291.5 266.7 292.7C269.4 293.9 275.1 296.8 278.0 297.9C280.9 299.0 285.8 300.3 288.2 300.8C290.6 301.3 294.4 301.7 296.1 301.7C297.8 301.7 299.3 301.5 300.6 300.8C301.9 300.1 304.7 298.3 306.2 296.3C307.7 294.3 310.5 289.0 311.9 285.5C313.3 282.0 315.0 275.2 316.4 269.7C317.8 264.2 320.9 249.1 322.6 244.0C324.3 238.9 327.6 234.0 329.3 231.6C331.0 229.2 333.5 227.0 335.0 226.0C336.5 225.0 339.1 224.3 340.6 224.4C342.1 224.5 344.8 225.3 346.3 226.6C347.8 227.9 350.2 231.0 351.9 233.9C353.6 236.8 356.9 244.6 358.7 248.5C360.5 252.4 363.8 259.9 365.5 263.2C367.2 266.5 369.8 271.3 371.1 273.4C372.4 275.5 374.4 277.6 375.6 278.6C376.8 279.6 378.1 280.7 380.1 280.8C382.1 280.9 388.0 279.7 390.3 279.5C392.6 279.3 395.3 279.0 397.1 279.0C398.9 279.0 401.4 279.8 403.8 279.5C406.2 279.2 412.1 277.8 415.1 276.7C418.1 275.6 423.7 272.7 426.4 271.1C429.1 269.5 433.1 266.5 435.4 265.0C437.7 263.5 441.3 261.7 443.3 259.8C445.3 257.9 448.1 253.7 450.1 250.8C452.1 247.9 455.9 241.4 458.0 238.4C460.1 235.4 463.9 230.1 465.9 228.2C467.9 226.3 470.9 225.1 472.7 224.4C474.5 223.7 477.7 223.2 479.5 223.3C481.3 223.4 484.3 223.8 486.2 224.8C488.1 225.8 492.3 229.0 494.1 230.5C495.9 232.0 498.5 234.5 499.8 235.7C501.1 236.9 502.1 238.6 503.5 239.7C504.9 240.8 508.5 243.5 510.3 244.2C512.1 244.9 515.0 245.1 517.1 244.9C519.2 244.7 523.7 243.5 526.1 243.0C528.5 242.5 532.7 240.9 535.1 240.8C537.5 240.7 541.8 241.7 544.2 241.9C546.6 242.1 550.8 242.5 553.2 242.4C555.6 242.3 559.8 241.5 562.2 240.8C564.6 240.1 568.9 238.4 571.3 237.4C573.7 236.4 577.9 234.5 580.3 233.3C582.7 232.1 586.9 229.7 589.3 228.4C591.7 227.1 596.3 224.5 598.4 223.4C600.5 222.3 603.3 221.0 605.1 220.5C606.9 220.0 610.1 219.4 611.9 219.3C613.7 219.2 616.6 219.5 618.7 220.0C620.8 220.5 625.3 221.9 627.7 222.7C630.1 223.5 634.3 225.1 636.7 226.1C639.1 227.1 643.7 229.4 645.8 230.2C647.9 231.0 650.4 231.9 652.5 232.4C654.6 232.9 659.2 233.3 661.6 233.6C664.0 233.9 667.9 234.1 670.6 234.5C673.3 234.9 679.3 236.2 681.9 236.7C684.5 237.2 687.4 238.6 690.2 238.5C693.0 238.4 698.8 237.4 702.6 236.3C706.4 235.2 714.9 232.3 718.4 230.6C721.9 228.9 725.8 225.1 728.5 223.4C731.2 221.7 736.1 219.0 738.7 218.2C741.3 217.4 745.1 217.0 747.7 217.1C750.3 217.2 754.9 218.0 757.9 218.9C760.9 219.8 767.1 222.6 770.3 223.9C773.5 225.2 778.9 227.7 781.6 228.8C784.3 229.9 788.2 231.7 790.6 232.2C793.0 232.7 796.3 232.8 799.6 232.9C802.9 233.0 811.8 232.8 815.4 232.9C819.0 233.0 823.1 233.0 826.7 233.3C830.3 233.6 839.0 234.8 842.5 235.1C846.0 235.4 850.3 236.0 852.7 235.8C855.1 235.6 858.3 234.6 860.6 233.3C862.9 232.0 867.1 228.0 869.6 226.1C872.1 224.2 876.5 220.6 879.0 219.3C881.5 218.0 885.8 216.7 888.1 216.6C890.4 216.5 893.6 217.6 896.0 218.9C898.4 220.2 903.1 223.8 906.1 226.1C909.1 228.4 915.6 234.2 918.5 236.3C921.4 238.4 925.6 240.6 927.6 241.5C929.6 242.4 930.9 242.8 933.2 243.0C935.5 243.2 940.9 243.0 944.5 243.0C948.1 243.0 957.0 243.0 960.3 243.0C963.6 243.0 966.9 242.9 969.3 243.0C971.7 243.1 975.7 243.8 978.4 243.7C981.1 243.6 986.4 243.0 989.6 242.6C992.8 242.2 998.8 241.6 1002.1 240.8C1005.4 240.0 1011.0 237.4 1014.5 236.3C1018.0 235.2 1024.2 233.4 1028.0 232.4C1031.8 231.4 1039.1 228.9 1042.7 228.8C1046.3 228.7 1052.1 231.0 1055.1 231.8C1058.1 232.6 1062.3 234.4 1065.3 234.7C1068.3 235.0 1074.8 234.0 1077.7 234.0C1080.6 234.0 1084.4 234.3 1086.7 234.5C1089.0 234.7 1093.5 235.6 1094.6 235.8" fill="none" stroke="#ff0000" stroke-width="3.1" stroke-linejoin="round" stroke-linecap="butt"/>
<text x="161.3" y="319.2" font-family="'DejaVu Sans','Liberation Sans',sans-serif" font-size="18" text-anchor="middle" fill="#000">11</text>
<text x="201.9" y="262.2" font-family="'DejaVu Sans','Liberation Sans',sans-serif" font-size="18" text-anchor="middle" fill="#000">16</text>
<text x="293.0" y="324.2" font-family="'DejaVu Sans','Liberation Sans',sans-serif" font-size="18" text-anchor="middle" fill="#000">10</text>
<text x="339.5" y="247.2" font-family="'DejaVu Sans','Liberation Sans',sans-serif" font-size="18" text-anchor="middle" fill="#000">17</text>
<text x="380.1" y="303.2" font-family="'DejaVu Sans','Liberation Sans',sans-serif" font-size="18" text-anchor="middle" fill="#000">12</text>
<text x="478.3" y="246.8" font-family="'DejaVu Sans','Liberation Sans',sans-serif" font-size="18" text-anchor="middle" fill="#000">17</text>
<text x="518.2" y="267.7" font-family="'DejaVu Sans','Liberation Sans',sans-serif" font-size="18" text-anchor="middle" fill="#000">15</text>
<text x="610.8" y="241.1" font-family="'DejaVu Sans','Liberation Sans',sans-serif" font-size="18" text-anchor="middle" fill="#000">18</text>
<text x="691.7" y="260.4" font-family="'DejaVu Sans','Liberation Sans',sans-serif" font-size="18" text-anchor="middle" fill="#000">16</text>
<text x="748.8" y="239.5" font-family="'DejaVu Sans','Liberation Sans',sans-serif" font-size="18" text-anchor="middle" fill="#000">18</text>
<text x="846.6" y="257.6" font-family="'DejaVu Sans','Liberation Sans',sans-serif" font-size="18" text-anchor="middle" fill="#000">16</text>
<text x="888.1" y="238.4" font-family="'DejaVu Sans','Liberation Sans',sans-serif" font-size="18" text-anchor="middle" fill="#000">18</text>
<text x="979.5" y="264.9" font-family="'DejaVu Sans','Liberation Sans',sans-serif" font-size="18" text-anchor="middle" fill="#000">15</text>
<text x="1042.7" y="251.5" font-family="'DejaVu Sans','Liberation Sans',sans-serif" font-size="18" text-anchor="middle" fill="#000">17</text>
<text x="1093.5" y="258.1" font-family="'DejaVu Sans','Liberation Sans',sans-serif" font-size="18" text-anchor="middle" fill="#000">16</text>
<g stroke="#000" stroke-width="1.95" fill="none" stroke-linecap="butt" stroke-linejoin="miter">
<path transform="translate(127.5 152.8) rotate(244)" d="M0 -13.0L0 13.0M0 13.00L-11.00 14.60"/>
<path transform="translate(144.8 152.8) rotate(249)" d="M0 -13.0L0 13.0M0 13.00L-11.00 14.60"/>
<path transform="translate(162.0 152.8) rotate(244)" d="M0 -13.0L0 13.0M0 8.20L-5.50 9.00"/>
<path transform="translate(179.3 152.8) rotate(35.8)" d="M0 -13.0L0 13.0M0 8.20L-5.50 9.00"/>
<path transform="translate(196.6 152.8) rotate(10.8)" d="M0 -13.0L0 13.0M0 8.20L-5.50 9.00"/>
<path transform="translate(213.8 152.8) rotate(0)" d="M0 -13.0L0 13.0M0 8.20L-5.50 9.00"/>
<path transform="translate(231.1 152.8) rotate(312.5)" d="M0 -13.0L0 13.0M0 8.20L-5.50 9.00"/>
<path transform="translate(248.4 152.8) rotate(287.7)" d="M0 -13.0L0 13.0M0 8.20L-5.50 9.00"/>
<path transform="translate(265.7 152.8) rotate(258.9)" d="M0 -13.0L0 13.0M0 8.20L-5.50 9.00"/>
<path transform="translate(282.9 152.8) rotate(242.4)" d="M0 -13.0L0 13.0M0 8.20L-5.50 9.00"/>
<path transform="translate(300.2 152.8) rotate(244.7)" d="M0 -13.0L0 13.0M0 8.20L-5.50 9.00"/>
<path transform="translate(317.5 152.8) rotate(348.8)" d="M0 -13.0L0 13.0M0 8.20L-5.50 9.00"/>
<path transform="translate(334.7 152.8) rotate(59.2)" d="M0 -13.0L0 13.0M0 8.20L-5.50 9.00"/>
<path transform="translate(352.0 152.8) rotate(2.4)" d="M0 -13.0L0 13.0M0 8.20L-5.50 9.00"/>
<path transform="translate(369.3 152.8) rotate(290.4)" d="M0 -13.0L0 13.0M0 8.20L-5.50 9.00"/>
<path transform="translate(386.5 152.8) rotate(290.5)" d="M0 -13.0L0 13.0M0 8.20L-5.50 9.00"/>
<path transform="translate(403.8 152.8) rotate(296.6)" d="M0 -13.0L0 13.0M0 8.20L-5.50 9.00"/>
<path transform="translate(421.1 152.8) rotate(270)" d="M0 -13.0L0 13.0M0 8.20L-5.50 9.00"/>
<path transform="translate(438.4 152.8) rotate(270)" d="M0 -13.0L0 13.0M0 8.20L-5.50 9.00"/>
<path transform="translate(455.6 152.8) rotate(330.3)" d="M0 -13.0L0 13.0M0 13.00L-11.00 14.60"/>
<path transform="translate(472.9 152.8) rotate(350.1)" d="M0 -13.0L0 13.0M0 13.00L-11.00 14.60"/>
<path transform="translate(490.2 152.8) rotate(352.8)" d="M0 -13.0L0 13.0M0 13.00L-11.00 14.60"/>
<path transform="translate(507.4 152.8) rotate(347)" d="M0 -13.0L0 13.0M0 13.00L-11.00 14.60"/>
<path transform="translate(524.7 152.8) rotate(1.2)" d="M0 -13.0L0 13.0M0 13.00L-11.00 14.60"/>
<path transform="translate(542.0 152.8) rotate(1.9)" d="M0 -13.0L0 13.0M0 13.00L-11.00 14.60"/>
<path transform="translate(559.2 152.8) rotate(352)" d="M0 -13.0L0 13.0M0 13.00L-11.00 14.60"/>
<path transform="translate(576.5 152.8) rotate(343.8)" d="M0 -13.0L0 13.0M0 13.00L-11.00 14.60"/>
<path transform="translate(593.8 152.8) rotate(342.9)" d="M0 -13.0L0 13.0M0 13.00L-11.00 14.60"/>
<path transform="translate(611.0 152.8) rotate(356.4)" d="M0 -13.0L0 13.0M0 13.00L-11.00 14.60"/>
<path transform="translate(628.3 152.8) rotate(358.3)" d="M0 -13.0L0 13.0M0 13.00L-11.00 14.60"/>
<path transform="translate(645.6 152.8) rotate(356)" d="M0 -13.0L0 13.0M0 13.00L-11.00 14.60"/>
<path transform="translate(662.9 152.8) rotate(333.2)" d="M0 -13.0L0 13.0M0 8.20L-5.50 9.00"/>
<path transform="translate(680.1 152.8) rotate(287.6)" d="M0 -13.0L0 13.0M0 8.20L-5.50 9.00"/>
<path transform="translate(697.4 152.8) rotate(334.3)" d="M0 -13.0L0 13.0M0 8.20L-5.50 9.00"/>
<path transform="translate(714.7 152.8) rotate(318)" d="M0 -13.0L0 13.0M0 8.20L-5.50 9.00"/>
<path transform="translate(731.9 152.8) rotate(318.3)" d="M0 -13.0L0 13.0M0 8.20L-5.50 9.00"/>
<path transform="translate(749.2 152.8) rotate(341.7)" d="M0 -13.0L0 13.0M0 8.20L-5.50 9.00"/>
<path transform="translate(766.5 152.8) rotate(337.5)" d="M0 -13.0L0 13.0M0 8.20L-5.50 9.00"/>
<path transform="translate(783.7 152.8) rotate(322.1)" d="M0 -13.0L0 13.0M0 8.20L-5.50 9.00"/>
<path transform="translate(801.0 152.8) rotate(321)" d="M0 -13.0L0 13.0M0 8.20L-5.50 9.00"/>
<path transform="translate(818.3 152.8) rotate(330.3)" d="M0 -13.0L0 13.0M0 8.20L-5.50 9.00"/>
<path transform="translate(835.6 152.8) rotate(350.2)" d="M0 -13.0L0 13.0M0 8.20L-5.50 9.00"/>
<path transform="translate(852.8 152.8) rotate(327)" d="M0 -13.0L0 13.0M0 8.20L-5.50 9.00"/>
<path transform="translate(870.1 152.8) rotate(6.8)" d="M0 -13.0L0 13.0M0 8.20L-5.50 9.00"/>
<path transform="translate(887.4 152.8) rotate(13.6)" d="M0 -13.0L0 13.0M0 8.20L-5.50 9.00"/>
<path transform="translate(904.6 152.8) rotate(3.6)" d="M0 -13.0L0 13.0M0 8.20L-5.50 9.00"/>
<path transform="translate(921.9 152.8) rotate(1.7)" d="M0 -13.0L0 13.0M0 8.20L-5.50 9.00"/>
<path transform="translate(939.2 152.8) rotate(6.8)" d="M0 -13.0L0 13.0M0 8.20L-5.50 9.00"/>
<path transform="translate(956.4 152.8) rotate(4.9)" d="M0 -13.0L0 13.0M0 8.20L-5.50 9.00"/>
<path transform="translate(973.7 152.8) rotate(356.3)" d="M0 -13.0L0 13.0M0 8.20L-5.50 9.00"/>
<path transform="translate(991.0 152.8) rotate(348.2)" d="M0 -13.0L0 13.0M0 8.20L-5.50 9.00"/>
<path transform="translate(1008.3 152.8) rotate(2.4)" d="M0 -13.0L0 13.0M0 8.20L-5.50 9.00"/>
<path transform="translate(1025.5 152.8) rotate(4.8)" d="M0 -13.0L0 13.0M0 8.20L-5.50 9.00"/>
<path transform="translate(1042.8 152.8) rotate(4.1)" d="M0 -13.0L0 13.0M0 8.20L-5.50 9.00"/>
<path transform="translate(1060.1 152.8) rotate(4.3)" d="M0 -13.0L0 13.0M0 8.20L-5.50 9.00"/>
<path transform="translate(1077.3 152.8) rotate(359.5)" d="M0 -13.0L0 13.0M0 8.20L-5.50 9.00"/>
<path transform="translate(1094.6 152.8) rotate(3.4)" d="M0 -13.0L0 13.0M0 8.20L-5.50 9.00"/>
</g>
<defs>
<path id="iMoon" d="M7.8 4.4C-1 5.6 -7.6 10.6 -7.6 17.3C-7.6 24.5 -1.6 29.8 7.4 30.2C3 26.6 0.9 22 0.9 17.2C0.9 12.1 3.2 7.7 7.8 4.4Z" fill="#fafafa" stroke="#000" stroke-width="1.5" stroke-linejoin="round"/>
<g id="iSun"><path d="M2.2 -6.9L4.0 -13.0L1.1 -13.5L0.5 -7.2ZM6.4 -3.3L12.0 -6.3L10.4 -8.8L5.5 -4.7ZM6.9 2.2L13.0 4.0L13.5 1.1L7.2 0.5ZM3.3 6.4L6.3 12.0L8.8 10.4L4.7 5.5ZM-2.2 6.9L-4.0 13.0L-1.1 13.5L-0.5 7.2ZM-6.4 3.3L-12.0 6.3L-10.4 8.8L-5.5 4.7ZM-6.9 -2.2L-13.0 -4.0L-13.5 -1.1L-7.2 -0.5ZM-3.3 -6.4L-6.3 -12.0L-8.8 -10.4L-4.7 -5.5Z" fill="#f4e11f" stroke="#ecd22e" stroke-width="0.5" stroke-linejoin="round"/><circle r="6.6" fill="#f5e71f" stroke="#f6a92a" stroke-width="0.9"/></g>
<g id="cGD"><path d="M5 15C2.2 15 0 13 0 10.6C0 8.2 1.9 6.4 4.4 6.4C4.6 2.8 7.6 0 11.2 0C14.4 0 17 2 17.9 4.8C21.3 4.4 24 7 24 10C24 12.8 21.8 15 19 15Z" fill="#cfcfcf" stroke="#2a5db0" stroke-width="1.6" stroke-linejoin="round" vector-effect="non-scaling-stroke"/><path d="M18.3 4.8C15.8 5.2 14 7 14.2 9.6M4.4 6.4C5.5 6.4 6.4 6.8 7.1 7.4" fill="none" stroke="#2a5db0" stroke-width="1.5" stroke-linecap="round" vector-effect="non-scaling-stroke"/></g>
<g id="cWD"><path d="M5 15C2.2 15 0 13 0 10.6C0 8.2 1.9 6.4 4.4 6.4C4.6 2.8 7.6 0 11.2 0C14.4 0 17 2 17.9 4.8C21.3 4.4 24 7 24 10C24 12.8 21.8 15 19 15Z" fill="#fbfbfb" stroke="#2a5db0" stroke-width="1.6" stroke-linejoin="round" vector-effect="non-scaling-stroke"/><path d="M18.3 4.8C15.8 5.2 14 7 14.2 9.6M4.4 6.4C5.5 6.4 6.4 6.8 7.1 7.4" fill="none" stroke="#2a5db0" stroke-width="1.5" stroke-linecap="round" vector-effect="non-scaling-stroke"/></g>
<g id="cGN"><path d="M5 15C2.2 15 0 13 0 10.6C0 8.2 1.9 6.4 4.4 6.4C4.6 2.8 7.6 0 11.2 0C14.4 0 17 2 17.9 4.8C21.3 4.4 24 7 24 10C24 12.8 21.8 15 19 15Z" fill="#cfcfcf" stroke="#2c4768" stroke-width="1.6" stroke-linejoin="round" vector-effect="non-scaling-stroke"/><path d="M18.3 4.8C15.8 5.2 14 7 14.2 9.6M4.4 6.4C5.5 6.4 6.4 6.8 7.1 7.4" fill="none" stroke="#2c4768" stroke-width="1.5" stroke-linecap="round" vector-effect="non-scaling-stroke"/></g>
<g id="cWN"><path d="M5 15C2.2 15 0 13 0 10.6C0 8.2 1.9 6.4 4.4 6.4C4.6 2.8 7.6 0 11.2 0C14.4 0 17 2 17.9 4.8C21.3 4.4 24 7 24 10C24 12.8 21.8 15 19 15Z" fill="#fbfbfb" stroke="#2c4768" stroke-width="1.6" stroke-linejoin="round" vector-effect="non-scaling-stroke"/><path d="M18.3 4.8C15.8 5.2 14 7 14.2 9.6M4.4 6.4C5.5 6.4 6.4 6.8 7.1 7.4" fill="none" stroke="#2c4768" stroke-width="1.5" stroke-linecap="round" vector-effect="non-scaling-stroke"/></g>
<g id="oD"><path d="M-10.4 26.8C-13.6 26.8 -16 24.3 -16 21.3C-16 18.2 -13.6 15.8 -10.6 15.8C-9 15.8 -7.4 16.2 -6.3 17L-4.5 14.6C-4.8 10.7 -1.9 7.9 1 7.9C3.9 7.9 6.2 9.8 6.6 12.5C9 11.2 12.2 11.2 14.6 12.9C17 14.6 18.1 17.4 17.7 20C17.3 23 15 25.4 12.2 26.2Z" fill="#cfcfcf" stroke="#2a5db0" stroke-width="1.6" stroke-linejoin="round"/><path d="M-5.6 17.4C-4.6 17 -3.4 17.4 -2.6 18.2M6.4 12.6C5 13.4 4 14.4 3.6 15.6" fill="none" stroke="#2a5db0" stroke-width="1.4" stroke-linecap="round"/><use href="#cWD" transform="translate(-7 15) scale(0.9125 0.9867)"/></g>
<g id="oN"><path d="M-10.4 26.8C-13.6 26.8 -16 24.3 -16 21.3C-16 18.2 -13.6 15.8 -10.6 15.8C-9 15.8 -7.4 16.2 -6.3 17L-4.5 14.6C-4.8 10.7 -1.9 7.9 1 7.9C3.9 7.9 6.2 9.8 6.6 12.5C9 11.2 12.2 11.2 14.6 12.9C17 14.6 18.1 17.4 17.7 20C17.3 23 15 25.4 12.2 26.2Z" fill="#cfcfcf" stroke="#2c4768" stroke-width="1.6" stroke-linejoin="round"/><path d="M-5.6 17.4C-4.6 17 -3.4 17.4 -2.6 18.2M6.4 12.6C5 13.4 4 14.4 3.6 15.6" fill="none" stroke="#2c4768" stroke-width="1.4" stroke-linecap="round"/><use href="#cWN" transform="translate(-7 15) scale(0.9125 0.9867)"/></g>
<path id="d4N" d="M-4.9 31.8L-6.4 37.0M-0.6 31.8L-2.1 37.0M3.6 31.8L2.1 37.0M7.9 31.8L6.4 37.0" stroke="#27456b" stroke-width="2.3" fill="none"/>
<path id="d4D" d="M-4.9 31.8L-6.4 37.0M-0.6 31.8L-2.1 37.0M3.6 31.8L2.1 37.0M7.9 31.8L6.4 37.0" stroke="#4a7dcc" stroke-width="2.3" fill="none"/>
<path id="d2oN" d="M-1.5 31.8L-3.0 37.0M2.8 31.8L1.3 37.0" stroke="#27456b" stroke-width="2.3" fill="none"/>
<path id="d2oD" d="M-1.5 31.8L-3.0 37.0M2.8 31.8L1.3 37.0" stroke="#4a7dcc" stroke-width="2.3" fill="none"/>
<path id="d2mN" d="M3.5 31.8L2.0 37.0M7.6 31.8L6.1 37.0" stroke="#27456b" stroke-width="2.3" fill="none"/>
<path id="d2sD" d="M-6.3 33.2L-7.8 37.6M-2.3 33.2L-3.8 37.6" stroke="#4a7dcc" stroke-width="2.3" fill="none"/>
</defs>
<g>
<g transform="translate(144.8 96.0)"><use href="#iMoon" transform="translate(0.00 0.00)"/></g>
<g transform="translate(179.3 96.0)"><use href="#iSun" transform="translate(-2.60 17.40)"/><use href="#cWD" transform="translate(-3.30 17.60) scale(0.7375 0.7733)"/></g>
<g transform="translate(213.8 96.0)"><use href="#iSun" transform="translate(4.00 16.80)"/><use href="#cGD" transform="translate(-16.50 17.00) scale(0.9333 0.9867)"/></g>
<g transform="translate(248.4 96.0)"><use href="#iMoon" transform="translate(-7.20 0.00)"/><use href="#cGN" transform="translate(-8.60 15.80) scale(0.8583 0.8467)"/><use href="#d2mN" transform="translate(0.00 0.00)"/></g>
<g transform="translate(282.9 96.0)"><use href="#iMoon" transform="translate(-7.20 0.00)"/><use href="#cWN" transform="translate(-6.40 15.80) scale(0.8125 0.8933)"/><use href="#d2mN" transform="translate(0.90 0.00)"/></g>
<g transform="translate(317.5 96.0)"><use href="#iSun" transform="translate(0.40 17.30)"/></g>
<g transform="translate(352.0 96.0)"><use href="#iSun" transform="translate(-2.60 17.40)"/><use href="#cWD" transform="translate(-3.30 17.60) scale(0.7375 0.7733)"/></g>
<g transform="translate(386.5 96.0)"><use href="#iMoon" transform="translate(-7.20 0.00)"/><use href="#cGN" transform="translate(-8.60 14.60) scale(1.0125 1.0533)"/></g>
<g transform="translate(421.1 96.0)"><use href="#iMoon" transform="translate(-7.20 0.00)"/><use href="#cGN" transform="translate(-8.60 15.80) scale(0.8583 0.8467)"/><use href="#d2mN" transform="translate(0.00 0.00)"/></g>
<g transform="translate(455.6 96.0)"><use href="#iSun" transform="translate(4.40 17.30)"/><use href="#cGD" transform="translate(-14.80 17.40) scale(0.9458 0.9800)"/><use href="#d2sD" transform="translate(0.00 0.00)"/></g>
<g transform="translate(490.2 96.0)"><use href="#iSun" transform="translate(4.40 17.30)"/><use href="#cGD" transform="translate(-14.80 17.40) scale(0.9458 0.9800)"/><use href="#d2sD" transform="translate(0.00 0.00)"/></g>
<g transform="translate(524.7 96.0)"><use href="#iMoon" transform="translate(-7.20 0.00)"/><use href="#cGN" transform="translate(-8.60 15.80) scale(0.8583 0.8467)"/><use href="#d2mN" transform="translate(0.00 0.00)"/></g>
<g transform="translate(559.2 96.0)"><use href="#oN" transform="translate(-1.10 0.40)"/><use href="#d4N" transform="translate(0.00 0.00)"/></g>
<g transform="translate(593.8 96.0)"><use href="#oD" transform="translate(-1.10 0.40)"/><use href="#d4D" transform="translate(0.00 0.00)"/></g>
<g transform="translate(628.3 96.0)"><use href="#oD" transform="translate(-1.10 0.40)"/><use href="#d4D" transform="translate(0.00 0.00)"/></g>
<g transform="translate(662.9 96.0)"><use href="#oN" transform="translate(-1.10 0.40)"/><use href="#d4N" transform="translate(0.00 0.00)"/></g>
<g transform="translate(697.4 96.0)"><use href="#oN" transform="translate(-1.10 0.40)"/><use href="#d2oN" transform="translate(0.00 0.00)"/></g>
<g transform="translate(731.9 96.0)"><use href="#oD" transform="translate(-1.10 0.40)"/><use href="#d2oD" transform="translate(0.00 0.00)"/></g>
<g transform="translate(766.5 96.0)"><use href="#oD" transform="translate(-1.10 0.40)"/><use href="#d2oD" transform="translate(0.00 0.00)"/></g>
<g transform="translate(801.0 96.0)"><use href="#oN" transform="translate(-1.10 0.40)"/><use href="#d2oN" transform="translate(0.00 0.00)"/></g>
<g transform="translate(835.6 96.0)"><use href="#oN" transform="translate(-1.10 0.40)"/></g>
<g transform="translate(870.1 96.0)"><use href="#oD" transform="translate(-1.10 0.40)"/><use href="#d4D" transform="translate(0.00 0.00)"/></g>
<g transform="translate(904.6 96.0)"><use href="#iSun" transform="translate(4.40 17.30)"/><use href="#cGD" transform="translate(-14.80 17.40) scale(0.9458 0.9800)"/><use href="#d2sD" transform="translate(0.00 0.00)"/></g>
<g transform="translate(939.2 96.0)"><use href="#iMoon" transform="translate(-7.20 0.00)"/><use href="#cGN" transform="translate(-8.60 14.60) scale(1.0125 1.0533)"/></g>
<g transform="translate(973.7 96.0)"><use href="#oN" transform="translate(-1.10 0.40)"/></g>
<g transform="translate(1008.3 96.0)"><use href="#iSun" transform="translate(4.40 17.30)"/><use href="#cGD" transform="translate(-14.80 17.40) scale(0.9458 0.9800)"/><use href="#d2sD" transform="translate(0.00 0.00)"/></g>
<g transform="translate(1042.8 96.0)"><use href="#oD" transform="translate(-1.10 0.40)"/></g>
<g transform="translate(1077.3 96.0)"><use href="#oN" transform="translate(-1.10 0.40)"/><use href="#d2oN" transform="translate(0.00 0.00)"/></g>
</g>
<path d="M144.8 359.5v-5M162.0 359.5v-10M179.3 359.5v-5M196.6 359.5v-10M213.8 359.5v-5M231.1 359.5v-10M248.4 359.5v-5M282.9 359.5v-5M300.2 359.5v-10M317.5 359.5v-5M334.7 359.5v-10M352.0 359.5v-5M369.3 359.5v-10M386.5 359.5v-5M421.1 359.5v-5M438.4 359.5v-10M455.6 359.5v-5M472.9 359.5v-10M490.2 359.5v-5M507.4 359.5v-10M524.7 359.5v-5M559.2 359.5v-5M576.5 359.5v-10M593.8 359.5v-5M611.0 359.5v-10M628.3 359.5v-5M645.6 359.5v-10M662.9 359.5v-5M697.4 359.5v-5M714.7 359.5v-10M731.9 359.5v-5M749.2 359.5v-10M766.5 359.5v-5M783.7 359.5v-10M801.0 359.5v-5M835.6 359.5v-5M852.8 359.5v-10M870.1 359.5v-5M887.4 359.5v-10M904.6 359.5v-5M921.9 359.5v-10M939.2 359.5v-5M973.7 359.5v-5M991.0 359.5v-10M1008.3 359.5v-5M1025.5 359.5v-10M1042.8 359.5v-5M1060.1 359.5v-10M1077.3 359.5v-5" stroke="#000" stroke-width="1.1" fill="none"/>
<line x1="162" x2="162" y1="97.5" y2="359.5" stroke="#000" stroke-width="1.7" stroke-dasharray="5.2 2.3"/>
<rect x="127.5" y="97.5" width="967.0999999999999" height="262.0" fill="none" stroke="#000" stroke-width="1.1"/>
<text x="9.4" y="21.5" font-family="'Liberation Sans',Arial,sans-serif" font-size="16" fill="#0000ff" text-anchor="start" >(kraj lahko izberete v meniju)</text>
<text x="398.9" y="36.5" font-family="'Liberation Sans',Arial,sans-serif" font-size="23.6" fill="#0000ff" text-anchor="start" >Kraljevica 7 dni</text>
<text x="1143" y="21.5" font-family="'Liberation Sans',Arial,sans-serif" font-size="16" fill="#0000ff" text-anchor="end" >Zadnja posodobitev: 27.10.2025 - 06:05</text>
<text x="196.6" y="68.5" font-family="'DejaVu Sans','Liberation Sans',sans-serif" font-size="17.75" fill="#000" text-anchor="middle" >ponedeljek</text>
<text x="196.6" y="89.8" font-family="'DejaVu Sans','Liberation Sans',sans-serif" font-size="17.75" fill="#000" text-anchor="middle" >27.10</text>
<text x="334.7" y="68.5" font-family="'DejaVu Sans','Liberation Sans',sans-serif" font-size="17.75" fill="#000" text-anchor="middle" >torek</text>
<text x="334.7" y="89.8" font-family="'DejaVu Sans','Liberation Sans',sans-serif" font-size="17.75" fill="#000" text-anchor="middle" >28.10</text>
<text x="472.9" y="68.5" font-family="'DejaVu Sans','Liberation Sans',sans-serif" font-size="17.75" fill="#000" text-anchor="middle" >sreda</text>
<text x="472.9" y="89.8" font-family="'DejaVu Sans','Liberation Sans',sans-serif" font-size="17.75" fill="#000" text-anchor="middle" >29.10</text>
<text x="611.0" y="68.5" font-family="'DejaVu Sans','Liberation Sans',sans-serif" font-size="17.75" fill="#000" text-anchor="middle" >četrtek</text>
<text x="611.0" y="89.8" font-family="'DejaVu Sans','Liberation Sans',sans-serif" font-size="17.75" fill="#000" text-anchor="middle" >30.10</text>
<text x="749.2" y="68.5" font-family="'DejaVu Sans','Liberation Sans',sans-serif" font-size="17.75" fill="#000" text-anchor="middle" >petek</text>
<text x="749.2" y="89.8" font-family="'DejaVu Sans','Liberation Sans',sans-serif" font-size="17.75" fill="#000" text-anchor="middle" >31.10</text>
<text x="887.4" y="68.5" font-family="'DejaVu Sans','Liberation Sans',sans-serif" font-size="17.75" fill="#cc0000" text-anchor="middle" >sobota</text>
<text x="887.4" y="89.8" font-family="'DejaVu Sans','Liberation Sans',sans-serif" font-size="17.75" fill="#cc0000" text-anchor="middle" >01.11</text>
<text x="1025.5" y="68.5" font-family="'DejaVu Sans','Liberation Sans',sans-serif" font-size="17.75" fill="#cc0000" text-anchor="middle" >nedelja</text>
<text x="1025.5" y="89.8" font-family="'DejaVu Sans','Liberation Sans',sans-serif" font-size="17.75" fill="#cc0000" text-anchor="middle" >02.11</text>
<text x="162.0" y="377.6" font-family="'DejaVu Sans','Liberation Sans',sans-serif" font-size="18" fill="#000" text-anchor="middle" >06</text>
<text x="196.6" y="377.6" font-family="'DejaVu Sans','Liberation Sans',sans-serif" font-size="18" fill="#000" text-anchor="middle" >12</text>
<text x="231.1" y="377.6" font-family="'DejaVu Sans','Liberation Sans',sans-serif" font-size="18" fill="#000" text-anchor="middle" >18</text>
<text x="300.2" y="377.6" font-family="'DejaVu Sans','Liberation Sans',sans-serif" font-size="18" fill="#000" text-anchor="middle" >06</text>
<text x="334.7" y="377.6" font-family="'DejaVu Sans','Liberation Sans',sans-serif" font-size="18" fill="#000" text-anchor="middle" >12</text>
<text x="369.3" y="377.6" font-family="'DejaVu Sans','Liberation Sans',sans-serif" font-size="18" fill="#000" text-anchor="middle" >18</text>
<text x="265.7" y="377.6" font-family="'DejaVu Sans','Liberation Sans',sans-serif" font-size="18" fill="#000" text-anchor="middle" >tor</text>
<text x="438.4" y="377.6" font-family="'DejaVu Sans','Liberation Sans',sans-serif" font-size="18" fill="#000" text-anchor="middle" >06</text>
<text x="472.9" y="377.6" font-family="'DejaVu Sans','Liberation Sans',sans-serif" font-size="18" fill="#000" text-anchor="middle" >12</text>
<text x="507.4" y="377.6" font-family="'DejaVu Sans','Liberation Sans',sans-serif" font-size="18" fill="#000" text-anchor="middle" >18</text>
<text x="403.8" y="377.6" font-family="'DejaVu Sans','Liberation Sans',sans-serif" font-size="18" fill="#000" text-anchor="middle" >sre</text>
<text x="576.5" y="377.6" font-family="'DejaVu Sans','Liberation Sans',sans-serif" font-size="18" fill="#000" text-anchor="middle" >06</text>
<text x="611.0" y="377.6" font-family="'DejaVu Sans','Liberation Sans',sans-serif" font-size="18" fill="#000" text-anchor="middle" >12</text>
<text x="645.6" y="377.6" font-family="'DejaVu Sans','Liberation Sans',sans-serif" font-size="18" fill="#000" text-anchor="middle" >18</text>
<text x="542.0" y="377.6" font-family="'DejaVu Sans','Liberation Sans',sans-serif" font-size="18" fill="#000" text-anchor="middle" >čet</text>
<text x="714.7" y="377.6" font-family="'DejaVu Sans','Liberation Sans',sans-serif" font-size="18" fill="#000" text-anchor="middle" >06</text>
<text x="749.2" y="377.6" font-family="'DejaVu Sans','Liberation Sans',sans-serif" font-size="18" fill="#000" text-anchor="middle" >12</text>
<text x="783.7" y="377.6" font-family="'DejaVu Sans','Liberation Sans',sans-serif" font-size="18" fill="#000" text-anchor="middle" >18</text>
<text x="680.1" y="377.6" font-family="'DejaVu Sans','Liberation Sans',sans-serif" font-size="18" fill="#000" text-anchor="middle" >pet</text>
<text x="852.8" y="377.6" font-family="'DejaVu Sans','Liberation Sans',sans-serif" font-size="18" fill="#000" text-anchor="middle" >06</text>
<text x="887.4" y="377.6" font-family="'DejaVu Sans','Liberation Sans',sans-serif" font-size="18" fill="#000" text-anchor="middle" >12</text>
<text x="921.9" y="377.6" font-family="'DejaVu Sans','Liberation Sans',sans-serif" font-size="18" fill="#000" text-anchor="middle" >18</text>
<text x="818.3" y="377.6" font-family="'DejaVu Sans','Liberation Sans',sans-serif" font-size="18" fill="#000" text-anchor="middle" >sob</text>
<text x="991.0" y="377.6" font-family="'DejaVu Sans','Liberation Sans',sans-serif" font-size="18" fill="#000" text-anchor="middle" >06</text>
<text x="1025.5" y="377.6" font-family="'DejaVu Sans','Liberation Sans',sans-serif" font-size="18" fill="#000" text-anchor="middle" >12</text>
<text x="1060.1" y="377.6" font-family="'DejaVu Sans','Liberation Sans',sans-serif" font-size="18" fill="#000" text-anchor="middle" >18</text>
<text x="956.4" y="377.6" font-family="'DejaVu Sans','Liberation Sans',sans-serif" font-size="18" fill="#000" text-anchor="middle" >ned</text>
<text x="122.3" y="365.7" font-family="'DejaVu Sans','Liberation Sans',sans-serif" font-size="18" fill="#000" text-anchor="end" >0</text>
<text x="122.3" y="328.3" font-family="'DejaVu Sans','Liberation Sans',sans-serif" font-size="18" fill="#000" text-anchor="end" >3</text>
<text x="122.3" y="290.9" font-family="'DejaVu Sans','Liberation Sans',sans-serif" font-size="18" fill="#000" text-anchor="end" >6</text>
<text x="122.3" y="253.5" font-family="'DejaVu Sans','Liberation Sans',sans-serif" font-size="18" fill="#000" text-anchor="end" >9</text>
<text x="122.3" y="216.1" font-family="'DejaVu Sans','Liberation Sans',sans-serif" font-size="18" fill="#000" text-anchor="end" >2</text>
<text x="122.3" y="178.7" font-family="'DejaVu Sans','Liberation Sans',sans-serif" font-size="18" fill="#000" text-anchor="end" >5</text>
<text x="45.6" y="365.7" font-family="'DejaVu Sans','Liberation Sans',sans-serif" font-size="18" fill="#ff0000" text-anchor="start" >5</text>
<text x="45.6" y="328.3" font-family="'DejaVu Sans','Liberation Sans',sans-serif" font-size="18" fill="#ff0000" text-anchor="start" >8</text>
<text x="45.6" y="290.9" font-family="'DejaVu Sans','Liberation Sans',sans-serif" font-size="18" fill="#ff0000" text-anchor="start" >12</text>
<text x="45.6" y="253.5" font-family="'DejaVu Sans','Liberation Sans',sans-serif" font-size="18" fill="#ff0000" text-anchor="start" >15</text>
<text x="45.6" y="216.1" font-family="'DejaVu Sans','Liberation Sans',sans-serif" font-size="18" fill="#ff0000" text-anchor="start" >19</text>
<text x="45.6" y="178.7" font-family="'DejaVu Sans','Liberation Sans',sans-serif" font-size="18" fill="#ff0000" text-anchor="start" >22</text>
<text x="1099.5" y="365.7" font-family="'DejaVu Sans','Liberation Sans',sans-serif" font-size="18" fill="#000" text-anchor="start" >0</text>
<text x="1099.5" y="328.3" font-family="'DejaVu Sans','Liberation Sans',sans-serif" font-size="18" fill="#000" text-anchor="start" >1.5</text>
<text x="1099.5" y="290.9" font-family="'DejaVu Sans','Liberation Sans',sans-serif" font-size="18" fill="#000" text-anchor="start" >3.5</text>
<text x="1099.5" y="253.5" font-family="'DejaVu Sans','Liberation Sans',sans-serif" font-size="18" fill="#000" text-anchor="start" >6.0</text>
<text x="1099.5" y="216.1" font-family="'DejaVu Sans','Liberation Sans',sans-serif" font-size="18" fill="#000" text-anchor="start" >9.0</text>
<text x="1099.5" y="178.7" font-family="'DejaVu Sans','Liberation Sans',sans-serif" font-size="18" fill="#000" text-anchor="start" >14</text>
<text transform="translate(36.3 267.5) rotate(-90)" font-family="'Liberation Sans',Arial,sans-serif" font-size="21.6" fill="#ff0000" text-anchor="middle">Temperatura (°C)</text>
<text transform="translate(100.2 263.5) rotate(-90)" font-family="'DejaVu Sans','Liberation Sans',sans-serif" font-size="19.2" fill="#000" text-anchor="middle">Padavine (mm/h)</text>
<text transform="translate(1146.3 255) rotate(-90)" font-family="'DejaVu Sans','Liberation Sans',sans-serif" font-size="19" fill="#000" text-anchor="middle">Višina oblakov (km)</text>
<path d="M78.2 177.4l1.7 -1.5M79.2 189v1.4M79.2 192.4v1.4M78.2 236.8l1.7 -1.5M79.2 275v1.3M79.2 279.6v1.3M79.2 286.2v1.3M79.2 290.6v1.3M79.2 314.6v1.4M79.2 321.4v1.4M78.6 351l1.2 -1.6" stroke="#111" stroke-width="1.4" fill="none"/>
<rect x="127" y="390" width="32.5" height="11" fill="#0055ff"/>
<rect x="165.3" y="386.2" width="104.7" height="19.4" fill="#fff"/>
<text x="169.5" y="402.4" font-family="'Liberation Sans',Arial,sans-serif" font-size="19.3" fill="#000" text-anchor="start" >Dež</text>
<rect x="278" y="390" width="32.5" height="11" fill="#1cd6c6"/>
<rect x="310.6" y="386.2" width="110.4" height="19.4" fill="#fff"/>
<text x="318.8" y="402.4" font-family="'Liberation Sans',Arial,sans-serif" font-size="19.3" fill="#000" text-anchor="start" >Možnost ploh</text>
<text x="499.2" y="401.5" font-family="'Liberation Sans',Arial,sans-serif" font-size="15.8" fill="#0000ff" text-anchor="start" >© vreme.us &amp; vreme.pro</text>
<rect x="760" y="386.0" width="180.2" height="19.6" fill="#fff"/>
<text x="760.2" y="402.2" font-family="'Liberation Sans',Arial,sans-serif" font-size="19.25" fill="#000" text-anchor="start" >Gostota oblakov (%)</text>
<rect x="949.20" y="385.4" width="29.46" height="13.2" fill="#d2d2d2"/>
<rect x="978.36" y="385.4" width="29.46" height="13.2" fill="#b0b0b0"/>
<rect x="1007.52" y="385.4" width="29.46" height="13.2" fill="#909090"/>
<rect x="1036.68" y="385.4" width="29.46" height="13.2" fill="#737373"/>
<rect x="1065.84" y="385.4" width="29.46" height="13.2" fill="#555555"/>
<rect x="949.2" y="385.4" width="145.8" height="13.2" fill="none" stroke="#000" stroke-width="0.9"/>
<text x="949.2" y="415.4" font-family="'DejaVu Sans','Liberation Sans',sans-serif" font-size="15.3" fill="#000" text-anchor="middle" >10</text>
<text x="978.4" y="415.4" font-family="'DejaVu Sans','Liberation Sans',sans-serif" font-size="15.3" fill="#000" text-anchor="middle" >25</text>
<text x="1007.5" y="415.4" font-family="'DejaVu Sans','Liberation Sans',sans-serif" font-size="15.3" fill="#000" text-anchor="middle" >50</text>
<text x="1036.7" y="415.4" font-family="'DejaVu Sans','Liberation Sans',sans-serif" font-size="15.3" fill="#000" text-anchor="middle" >75</text>
<text x="1065.8" y="415.4" font-family="'DejaVu Sans','Liberation Sans',sans-serif" font-size="15.3" fill="#000" text-anchor="middle" >90</text>
<text x="1095.0" y="415.4" font-family="'DejaVu Sans','Liberation Sans',sans-serif" font-size="15.3" fill="#000" text-anchor="middle" >100</text>
</svg>
</body></html>
